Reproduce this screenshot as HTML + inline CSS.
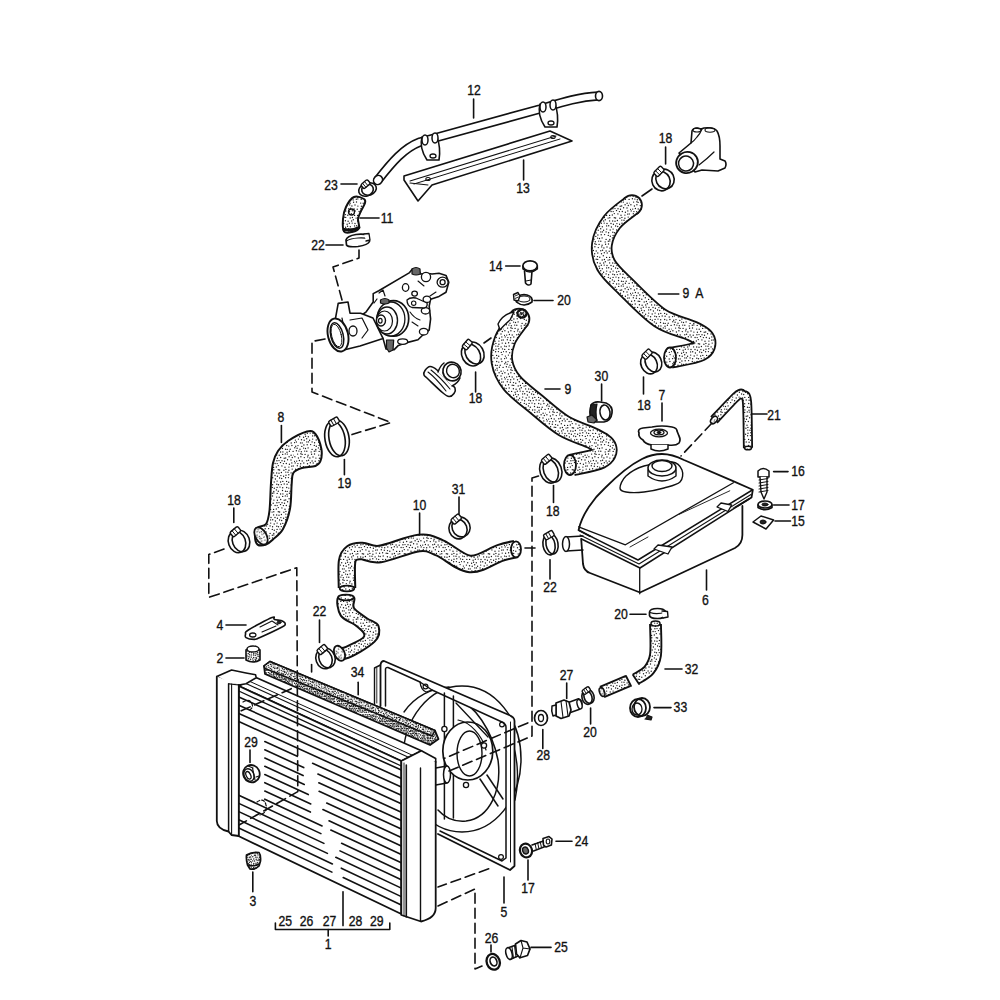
<!DOCTYPE html>
<html><head><meta charset="utf-8"><style>
html,body{margin:0;padding:0;background:#fff;width:1000px;height:1000px;overflow:hidden}
svg{display:block}
text{font-family:"Liberation Sans",sans-serif;fill:#111;stroke:#111;stroke-width:0.35}
</style></head><body>
<svg width="1000" height="1000" viewBox="0 0 1000 1000">
<defs><pattern id="st" width="42" height="42" patternUnits="userSpaceOnUse"><rect width="42" height="42" fill="#fff"/><g fill="#1a1a1a"><circle cx="1.2" cy="0.9" r="0.68"/><circle cx="3.3" cy="3.7" r="0.68"/><circle cx="1.6" cy="7.3" r="0.68"/><circle cx="2.2" cy="10.5" r="0.68"/><circle cx="0.7" cy="13.4" r="0.68"/><circle cx="2.2" cy="15.8" r="0.68"/><circle cx="1.4" cy="20.1" r="0.68"/><circle cx="2.3" cy="22.0" r="0.68"/><circle cx="1.7" cy="26.3" r="0.68"/><circle cx="3.1" cy="28.3" r="0.68"/><circle cx="2.4" cy="30.7" r="0.68"/><circle cx="3.6" cy="34.1" r="0.68"/><circle cx="0.9" cy="36.8" r="0.68"/><circle cx="2.7" cy="41.1" r="0.68"/><circle cx="3.9" cy="1.6" r="0.68"/><circle cx="6.3" cy="4.3" r="0.68"/><circle cx="4.6" cy="6.7" r="0.68"/><circle cx="5.2" cy="10.0" r="0.68"/><circle cx="4.8" cy="13.4" r="0.68"/><circle cx="5.7" cy="16.7" r="0.68"/><circle cx="4.4" cy="19.1" r="0.68"/><circle cx="6.5" cy="22.9" r="0.68"/><circle cx="4.0" cy="25.6" r="0.68"/><circle cx="6.0" cy="29.2" r="0.68"/><circle cx="4.9" cy="31.1" r="0.68"/><circle cx="6.9" cy="33.8" r="0.68"/><circle cx="4.4" cy="38.0" r="0.68"/><circle cx="5.4" cy="40.5" r="0.68"/><circle cx="6.7" cy="1.8" r="0.68"/><circle cx="9.5" cy="4.6" r="0.68"/><circle cx="8.2" cy="7.2" r="0.68"/><circle cx="9.4" cy="10.7" r="0.68"/><circle cx="7.6" cy="13.4" r="0.68"/><circle cx="9.6" cy="17.3" r="0.68"/><circle cx="7.5" cy="19.8" r="0.68"/><circle cx="8.2" cy="22.9" r="0.68"/><circle cx="7.8" cy="26.4" r="0.68"/><circle cx="9.6" cy="28.1" r="0.68"/><circle cx="7.3" cy="31.8" r="0.68"/><circle cx="8.1" cy="34.4" r="0.68"/><circle cx="6.9" cy="36.8" r="0.68"/><circle cx="8.2" cy="41.0" r="0.68"/><circle cx="9.8" cy="1.0" r="0.68"/><circle cx="11.8" cy="5.2" r="0.68"/><circle cx="9.7" cy="7.4" r="0.68"/><circle cx="12.1" cy="11.2" r="0.68"/><circle cx="11.1" cy="14.2" r="0.68"/><circle cx="11.6" cy="16.3" r="0.68"/><circle cx="10.2" cy="20.2" r="0.68"/><circle cx="12.8" cy="21.9" r="0.68"/><circle cx="9.9" cy="25.0" r="0.68"/><circle cx="11.5" cy="28.5" r="0.68"/><circle cx="10.7" cy="31.1" r="0.68"/><circle cx="11.1" cy="34.4" r="0.68"/><circle cx="10.3" cy="37.6" r="0.68"/><circle cx="12.8" cy="40.8" r="0.68"/><circle cx="13.5" cy="1.7" r="0.68"/><circle cx="15.3" cy="3.7" r="0.68"/><circle cx="14.2" cy="8.0" r="0.68"/><circle cx="15.7" cy="11.0" r="0.68"/><circle cx="13.3" cy="13.3" r="0.68"/><circle cx="14.3" cy="16.7" r="0.68"/><circle cx="12.7" cy="18.7" r="0.68"/><circle cx="14.5" cy="21.9" r="0.68"/><circle cx="13.2" cy="24.7" r="0.68"/><circle cx="14.1" cy="27.9" r="0.68"/><circle cx="12.8" cy="31.3" r="0.68"/><circle cx="14.1" cy="35.2" r="0.68"/><circle cx="13.7" cy="36.9" r="0.68"/><circle cx="14.6" cy="40.2" r="0.68"/><circle cx="16.3" cy="0.8" r="0.68"/><circle cx="18.6" cy="5.4" r="0.68"/><circle cx="16.4" cy="7.5" r="0.68"/><circle cx="17.3" cy="9.8" r="0.68"/><circle cx="16.2" cy="13.1" r="0.68"/><circle cx="18.6" cy="15.9" r="0.68"/><circle cx="15.6" cy="20.3" r="0.68"/><circle cx="18.1" cy="21.9" r="0.68"/><circle cx="16.6" cy="24.6" r="0.68"/><circle cx="18.1" cy="29.4" r="0.68"/><circle cx="17.2" cy="31.9" r="0.68"/><circle cx="17.6" cy="34.3" r="0.68"/><circle cx="15.9" cy="38.0" r="0.68"/><circle cx="18.1" cy="41.0" r="0.68"/><circle cx="19.2" cy="1.0" r="0.68"/><circle cx="21.6" cy="5.4" r="0.68"/><circle cx="20.1" cy="8.1" r="0.68"/><circle cx="21.6" cy="10.9" r="0.68"/><circle cx="19.0" cy="13.5" r="0.68"/><circle cx="20.7" cy="15.7" r="0.68"/><circle cx="18.7" cy="19.1" r="0.68"/><circle cx="20.6" cy="22.8" r="0.68"/><circle cx="20.3" cy="25.4" r="0.68"/><circle cx="21.8" cy="29.4" r="0.68"/><circle cx="20.3" cy="31.3" r="0.68"/><circle cx="20.5" cy="34.0" r="0.68"/><circle cx="19.0" cy="37.0" r="0.68"/><circle cx="21.2" cy="41.2" r="0.68"/><circle cx="23.1" cy="1.5" r="0.68"/><circle cx="24.3" cy="5.0" r="0.68"/><circle cx="21.8" cy="7.8" r="0.68"/><circle cx="24.7" cy="11.0" r="0.68"/><circle cx="23.0" cy="13.5" r="0.68"/><circle cx="23.4" cy="17.0" r="0.68"/><circle cx="22.2" cy="20.0" r="0.68"/><circle cx="24.8" cy="22.3" r="0.68"/><circle cx="22.3" cy="26.3" r="0.68"/><circle cx="24.4" cy="27.9" r="0.68"/><circle cx="21.8" cy="30.9" r="0.68"/><circle cx="24.7" cy="35.1" r="0.68"/><circle cx="21.9" cy="38.1" r="0.68"/><circle cx="24.9" cy="40.8" r="0.68"/><circle cx="25.2" cy="1.6" r="0.68"/><circle cx="26.3" cy="3.6" r="0.68"/><circle cx="26.3" cy="7.8" r="0.68"/><circle cx="27.0" cy="11.3" r="0.68"/><circle cx="25.4" cy="14.2" r="0.68"/><circle cx="27.6" cy="16.0" r="0.68"/><circle cx="25.1" cy="19.1" r="0.68"/><circle cx="26.5" cy="22.7" r="0.68"/><circle cx="25.1" cy="25.4" r="0.68"/><circle cx="26.3" cy="29.2" r="0.68"/><circle cx="25.2" cy="31.4" r="0.68"/><circle cx="27.2" cy="35.2" r="0.68"/><circle cx="25.4" cy="38.3" r="0.68"/><circle cx="27.0" cy="40.6" r="0.68"/><circle cx="28.5" cy="0.6" r="0.68"/><circle cx="29.9" cy="3.9" r="0.68"/><circle cx="27.6" cy="8.0" r="0.68"/><circle cx="29.4" cy="10.5" r="0.68"/><circle cx="28.9" cy="13.6" r="0.68"/><circle cx="29.7" cy="16.5" r="0.68"/><circle cx="28.6" cy="20.0" r="0.68"/><circle cx="29.3" cy="22.6" r="0.68"/><circle cx="28.0" cy="25.1" r="0.68"/><circle cx="30.5" cy="28.5" r="0.68"/><circle cx="28.6" cy="32.0" r="0.68"/><circle cx="30.7" cy="34.4" r="0.68"/><circle cx="28.7" cy="37.5" r="0.68"/><circle cx="30.0" cy="40.8" r="0.68"/><circle cx="31.4" cy="1.6" r="0.68"/><circle cx="33.0" cy="5.3" r="0.68"/><circle cx="31.9" cy="8.2" r="0.68"/><circle cx="33.8" cy="10.1" r="0.68"/><circle cx="31.6" cy="14.3" r="0.68"/><circle cx="33.6" cy="15.8" r="0.68"/><circle cx="30.8" cy="19.4" r="0.68"/><circle cx="32.2" cy="22.0" r="0.68"/><circle cx="30.7" cy="25.8" r="0.68"/><circle cx="33.5" cy="29.2" r="0.68"/><circle cx="30.9" cy="31.9" r="0.68"/><circle cx="33.3" cy="33.9" r="0.68"/><circle cx="32.2" cy="38.3" r="0.68"/><circle cx="32.5" cy="41.3" r="0.68"/><circle cx="34.3" cy="1.5" r="0.68"/><circle cx="36.9" cy="5.1" r="0.68"/><circle cx="33.9" cy="7.4" r="0.68"/><circle cx="36.0" cy="10.2" r="0.68"/><circle cx="34.0" cy="13.2" r="0.68"/><circle cx="36.4" cy="15.6" r="0.68"/><circle cx="34.6" cy="19.4" r="0.68"/><circle cx="35.1" cy="22.2" r="0.68"/><circle cx="34.7" cy="25.5" r="0.68"/><circle cx="35.2" cy="29.4" r="0.68"/><circle cx="35.0" cy="32.3" r="0.68"/><circle cx="35.3" cy="34.1" r="0.68"/><circle cx="33.7" cy="38.0" r="0.68"/><circle cx="35.6" cy="39.8" r="0.68"/><circle cx="37.4" cy="2.2" r="0.68"/><circle cx="39.6" cy="4.1" r="0.68"/><circle cx="36.9" cy="8.3" r="0.68"/><circle cx="39.1" cy="10.9" r="0.68"/><circle cx="36.8" cy="12.7" r="0.68"/><circle cx="39.3" cy="16.4" r="0.68"/><circle cx="36.7" cy="20.3" r="0.68"/><circle cx="39.2" cy="23.0" r="0.68"/><circle cx="36.8" cy="26.1" r="0.68"/><circle cx="38.2" cy="29.2" r="0.68"/><circle cx="37.4" cy="31.2" r="0.68"/><circle cx="39.1" cy="35.3" r="0.68"/><circle cx="37.1" cy="36.8" r="0.68"/><circle cx="39.0" cy="40.0" r="0.68"/><circle cx="39.8" cy="0.9" r="0.68"/><circle cx="41.2" cy="4.0" r="0.68"/><circle cx="40.2" cy="7.1" r="0.68"/><circle cx="0.5" cy="10.1" r="0.68"/><circle cx="40.5" cy="12.9" r="0.68"/><circle cx="41.7" cy="15.6" r="0.68"/><circle cx="40.1" cy="18.6" r="0.68"/><circle cx="0.4" cy="22.6" r="0.68"/><circle cx="39.9" cy="25.5" r="0.68"/><circle cx="0.8" cy="27.8" r="0.68"/><circle cx="41.1" cy="31.4" r="0.68"/><circle cx="42.0" cy="35.1" r="0.68"/><circle cx="40.3" cy="37.5" r="0.68"/><circle cx="0.3" cy="41.4" r="0.68"/></g></pattern><pattern id="st2" width="42" height="42" patternUnits="userSpaceOnUse"><rect width="42" height="42" fill="#fff"/><g fill="#1a1a1a"><circle cx="0.8" cy="1.3" r="0.72"/><circle cx="2.2" cy="3.1" r="0.72"/><circle cx="0.9" cy="4.8" r="0.72"/><circle cx="1.6" cy="6.6" r="0.72"/><circle cx="0.6" cy="9.2" r="0.72"/><circle cx="1.8" cy="10.7" r="0.72"/><circle cx="0.6" cy="13.3" r="0.72"/><circle cx="2.4" cy="15.2" r="0.72"/><circle cx="0.8" cy="16.7" r="0.72"/><circle cx="1.8" cy="19.0" r="0.72"/><circle cx="0.7" cy="20.9" r="0.72"/><circle cx="1.8" cy="23.5" r="0.72"/><circle cx="1.5" cy="25.0" r="0.72"/><circle cx="1.7" cy="27.5" r="0.72"/><circle cx="0.8" cy="28.9" r="0.72"/><circle cx="1.5" cy="30.9" r="0.72"/><circle cx="1.0" cy="33.0" r="0.72"/><circle cx="1.7" cy="35.0" r="0.72"/><circle cx="0.5" cy="36.8" r="0.72"/><circle cx="1.6" cy="38.9" r="0.72"/><circle cx="0.5" cy="40.5" r="0.72"/><circle cx="2.8" cy="0.7" r="0.72"/><circle cx="4.1" cy="3.0" r="0.72"/><circle cx="3.3" cy="5.2" r="0.72"/><circle cx="4.2" cy="7.4" r="0.72"/><circle cx="2.9" cy="8.8" r="0.72"/><circle cx="4.5" cy="10.6" r="0.72"/><circle cx="3.2" cy="13.1" r="0.72"/><circle cx="3.5" cy="15.3" r="0.72"/><circle cx="3.4" cy="17.1" r="0.72"/><circle cx="4.2" cy="19.3" r="0.72"/><circle cx="2.6" cy="21.0" r="0.72"/><circle cx="4.0" cy="23.3" r="0.72"/><circle cx="3.3" cy="25.3" r="0.72"/><circle cx="4.1" cy="27.4" r="0.72"/><circle cx="3.2" cy="29.2" r="0.72"/><circle cx="3.7" cy="30.5" r="0.72"/><circle cx="2.6" cy="32.9" r="0.72"/><circle cx="3.6" cy="35.3" r="0.72"/><circle cx="3.1" cy="37.1" r="0.72"/><circle cx="4.1" cy="39.2" r="0.72"/><circle cx="3.0" cy="40.5" r="0.72"/><circle cx="5.3" cy="1.2" r="0.72"/><circle cx="6.0" cy="3.0" r="0.72"/><circle cx="5.2" cy="4.6" r="0.72"/><circle cx="6.2" cy="6.8" r="0.72"/><circle cx="4.6" cy="8.8" r="0.72"/><circle cx="6.2" cy="10.7" r="0.72"/><circle cx="5.2" cy="13.5" r="0.72"/><circle cx="6.0" cy="14.9" r="0.72"/><circle cx="5.0" cy="17.2" r="0.72"/><circle cx="6.3" cy="19.1" r="0.72"/><circle cx="5.1" cy="20.6" r="0.72"/><circle cx="5.6" cy="22.8" r="0.72"/><circle cx="5.2" cy="24.8" r="0.72"/><circle cx="6.1" cy="26.5" r="0.72"/><circle cx="4.6" cy="28.8" r="0.72"/><circle cx="6.2" cy="31.2" r="0.72"/><circle cx="5.2" cy="32.8" r="0.72"/><circle cx="6.0" cy="35.0" r="0.72"/><circle cx="5.0" cy="36.6" r="0.72"/><circle cx="6.4" cy="38.7" r="0.72"/><circle cx="5.5" cy="41.4" r="0.72"/><circle cx="6.5" cy="1.0" r="0.72"/><circle cx="8.3" cy="3.5" r="0.72"/><circle cx="6.9" cy="4.8" r="0.72"/><circle cx="7.7" cy="7.4" r="0.72"/><circle cx="6.7" cy="9.1" r="0.72"/><circle cx="7.6" cy="11.0" r="0.72"/><circle cx="7.5" cy="12.6" r="0.72"/><circle cx="8.3" cy="15.0" r="0.72"/><circle cx="7.4" cy="17.2" r="0.72"/><circle cx="7.7" cy="19.4" r="0.72"/><circle cx="7.0" cy="20.5" r="0.72"/><circle cx="7.5" cy="23.0" r="0.72"/><circle cx="7.0" cy="24.8" r="0.72"/><circle cx="7.6" cy="26.8" r="0.72"/><circle cx="6.8" cy="29.3" r="0.72"/><circle cx="7.5" cy="31.3" r="0.72"/><circle cx="7.3" cy="32.6" r="0.72"/><circle cx="8.4" cy="35.2" r="0.72"/><circle cx="7.4" cy="36.8" r="0.72"/><circle cx="7.9" cy="38.9" r="0.72"/><circle cx="7.5" cy="41.1" r="0.72"/><circle cx="8.9" cy="0.9" r="0.72"/><circle cx="9.8" cy="2.5" r="0.72"/><circle cx="8.6" cy="5.3" r="0.72"/><circle cx="9.8" cy="7.4" r="0.72"/><circle cx="8.7" cy="8.8" r="0.72"/><circle cx="10.0" cy="10.7" r="0.72"/><circle cx="8.9" cy="13.5" r="0.72"/><circle cx="10.4" cy="15.3" r="0.72"/><circle cx="9.1" cy="17.4" r="0.72"/><circle cx="10.4" cy="19.0" r="0.72"/><circle cx="9.2" cy="20.5" r="0.72"/><circle cx="10.2" cy="23.0" r="0.72"/><circle cx="9.3" cy="25.1" r="0.72"/><circle cx="9.8" cy="26.5" r="0.72"/><circle cx="9.4" cy="28.6" r="0.72"/><circle cx="10.0" cy="30.8" r="0.72"/><circle cx="8.8" cy="33.2" r="0.72"/><circle cx="10.5" cy="34.8" r="0.72"/><circle cx="9.2" cy="36.8" r="0.72"/><circle cx="10.1" cy="38.9" r="0.72"/><circle cx="8.7" cy="40.7" r="0.72"/><circle cx="10.7" cy="1.4" r="0.72"/><circle cx="12.0" cy="2.7" r="0.72"/><circle cx="11.4" cy="5.5" r="0.72"/><circle cx="11.9" cy="6.6" r="0.72"/><circle cx="10.7" cy="8.6" r="0.72"/><circle cx="11.8" cy="10.6" r="0.72"/><circle cx="10.7" cy="12.8" r="0.72"/><circle cx="12.1" cy="15.4" r="0.72"/><circle cx="11.2" cy="16.9" r="0.72"/><circle cx="11.9" cy="19.0" r="0.72"/><circle cx="10.9" cy="20.8" r="0.72"/><circle cx="11.6" cy="22.8" r="0.72"/><circle cx="11.5" cy="24.6" r="0.72"/><circle cx="12.0" cy="27.1" r="0.72"/><circle cx="11.4" cy="28.7" r="0.72"/><circle cx="11.8" cy="30.7" r="0.72"/><circle cx="10.9" cy="32.9" r="0.72"/><circle cx="12.5" cy="35.3" r="0.72"/><circle cx="11.4" cy="36.5" r="0.72"/><circle cx="11.5" cy="39.2" r="0.72"/><circle cx="11.4" cy="41.0" r="0.72"/><circle cx="13.1" cy="0.5" r="0.72"/><circle cx="13.9" cy="3.4" r="0.72"/><circle cx="13.3" cy="5.4" r="0.72"/><circle cx="14.5" cy="6.7" r="0.72"/><circle cx="12.6" cy="8.7" r="0.72"/><circle cx="14.0" cy="11.2" r="0.72"/><circle cx="13.4" cy="13.2" r="0.72"/><circle cx="14.1" cy="15.3" r="0.72"/><circle cx="13.0" cy="17.1" r="0.72"/><circle cx="13.5" cy="19.3" r="0.72"/><circle cx="12.7" cy="21.4" r="0.72"/><circle cx="14.1" cy="22.8" r="0.72"/><circle cx="12.6" cy="24.8" r="0.72"/><circle cx="14.1" cy="27.2" r="0.72"/><circle cx="12.6" cy="28.6" r="0.72"/><circle cx="14.0" cy="31.1" r="0.72"/><circle cx="12.9" cy="32.7" r="0.72"/><circle cx="14.1" cy="34.5" r="0.72"/><circle cx="12.8" cy="37.0" r="0.72"/><circle cx="14.5" cy="39.1" r="0.72"/><circle cx="13.4" cy="41.0" r="0.72"/><circle cx="14.7" cy="0.7" r="0.72"/><circle cx="16.5" cy="3.2" r="0.72"/><circle cx="14.8" cy="4.5" r="0.72"/><circle cx="16.0" cy="7.2" r="0.72"/><circle cx="14.9" cy="8.8" r="0.72"/><circle cx="16.2" cy="11.4" r="0.72"/><circle cx="14.7" cy="12.5" r="0.72"/><circle cx="15.8" cy="14.9" r="0.72"/><circle cx="15.2" cy="16.7" r="0.72"/><circle cx="16.3" cy="19.2" r="0.72"/><circle cx="15.0" cy="20.7" r="0.72"/><circle cx="16.5" cy="22.8" r="0.72"/><circle cx="15.3" cy="24.7" r="0.72"/><circle cx="15.7" cy="27.3" r="0.72"/><circle cx="14.8" cy="29.5" r="0.72"/><circle cx="16.0" cy="30.7" r="0.72"/><circle cx="14.7" cy="32.9" r="0.72"/><circle cx="16.2" cy="35.4" r="0.72"/><circle cx="14.6" cy="36.9" r="0.72"/><circle cx="15.7" cy="39.5" r="0.72"/><circle cx="14.6" cy="40.6" r="0.72"/><circle cx="16.6" cy="0.9" r="0.72"/><circle cx="18.4" cy="3.4" r="0.72"/><circle cx="17.2" cy="5.5" r="0.72"/><circle cx="18.4" cy="6.8" r="0.72"/><circle cx="16.7" cy="9.4" r="0.72"/><circle cx="18.2" cy="10.5" r="0.72"/><circle cx="17.2" cy="12.9" r="0.72"/><circle cx="17.9" cy="14.8" r="0.72"/><circle cx="16.7" cy="16.5" r="0.72"/><circle cx="17.8" cy="18.9" r="0.72"/><circle cx="17.5" cy="20.6" r="0.72"/><circle cx="18.5" cy="22.7" r="0.72"/><circle cx="16.9" cy="25.3" r="0.72"/><circle cx="18.3" cy="26.9" r="0.72"/><circle cx="16.5" cy="29.0" r="0.72"/><circle cx="17.9" cy="31.4" r="0.72"/><circle cx="16.7" cy="32.9" r="0.72"/><circle cx="18.4" cy="34.5" r="0.72"/><circle cx="16.9" cy="37.3" r="0.72"/><circle cx="18.3" cy="38.5" r="0.72"/><circle cx="16.5" cy="40.6" r="0.72"/><circle cx="19.4" cy="0.8" r="0.72"/><circle cx="20.2" cy="3.4" r="0.72"/><circle cx="18.8" cy="4.8" r="0.72"/><circle cx="20.5" cy="7.1" r="0.72"/><circle cx="18.8" cy="9.2" r="0.72"/><circle cx="19.8" cy="10.8" r="0.72"/><circle cx="18.5" cy="13.3" r="0.72"/><circle cx="20.4" cy="15.1" r="0.72"/><circle cx="19.4" cy="16.5" r="0.72"/><circle cx="19.7" cy="19.0" r="0.72"/><circle cx="19.5" cy="21.5" r="0.72"/><circle cx="19.9" cy="22.8" r="0.72"/><circle cx="18.9" cy="25.0" r="0.72"/><circle cx="20.4" cy="26.7" r="0.72"/><circle cx="19.3" cy="29.2" r="0.72"/><circle cx="20.3" cy="31.3" r="0.72"/><circle cx="19.1" cy="32.8" r="0.72"/><circle cx="19.8" cy="34.9" r="0.72"/><circle cx="19.3" cy="36.6" r="0.72"/><circle cx="19.7" cy="39.3" r="0.72"/><circle cx="18.7" cy="40.6" r="0.72"/><circle cx="20.5" cy="1.1" r="0.72"/><circle cx="21.8" cy="3.5" r="0.72"/><circle cx="21.4" cy="5.5" r="0.72"/><circle cx="21.8" cy="6.6" r="0.72"/><circle cx="20.6" cy="9.0" r="0.72"/><circle cx="22.2" cy="10.9" r="0.72"/><circle cx="20.7" cy="12.9" r="0.72"/><circle cx="22.1" cy="15.2" r="0.72"/><circle cx="21.2" cy="17.3" r="0.72"/><circle cx="22.2" cy="18.6" r="0.72"/><circle cx="21.3" cy="20.8" r="0.72"/><circle cx="22.1" cy="22.9" r="0.72"/><circle cx="21.2" cy="24.7" r="0.72"/><circle cx="21.7" cy="26.7" r="0.72"/><circle cx="20.7" cy="29.4" r="0.72"/><circle cx="22.1" cy="30.8" r="0.72"/><circle cx="20.9" cy="33.5" r="0.72"/><circle cx="22.0" cy="34.7" r="0.72"/><circle cx="21.3" cy="37.2" r="0.72"/><circle cx="22.5" cy="38.6" r="0.72"/><circle cx="21.0" cy="41.3" r="0.72"/><circle cx="23.3" cy="1.4" r="0.72"/><circle cx="23.5" cy="2.8" r="0.72"/><circle cx="22.6" cy="4.7" r="0.72"/><circle cx="24.5" cy="7.1" r="0.72"/><circle cx="23.4" cy="8.9" r="0.72"/><circle cx="24.4" cy="10.9" r="0.72"/><circle cx="22.8" cy="13.3" r="0.72"/><circle cx="24.4" cy="14.6" r="0.72"/><circle cx="23.1" cy="17.1" r="0.72"/><circle cx="23.7" cy="18.9" r="0.72"/><circle cx="22.6" cy="20.7" r="0.72"/><circle cx="23.8" cy="23.1" r="0.72"/><circle cx="23.2" cy="24.7" r="0.72"/><circle cx="23.5" cy="26.8" r="0.72"/><circle cx="23.2" cy="28.7" r="0.72"/><circle cx="23.8" cy="30.7" r="0.72"/><circle cx="23.3" cy="33.0" r="0.72"/><circle cx="23.6" cy="34.6" r="0.72"/><circle cx="22.9" cy="37.1" r="0.72"/><circle cx="24.1" cy="38.6" r="0.72"/><circle cx="22.7" cy="41.2" r="0.72"/><circle cx="24.9" cy="0.8" r="0.72"/><circle cx="25.8" cy="3.5" r="0.72"/><circle cx="24.8" cy="5.1" r="0.72"/><circle cx="25.9" cy="6.9" r="0.72"/><circle cx="25.4" cy="9.5" r="0.72"/><circle cx="25.9" cy="10.7" r="0.72"/><circle cx="25.2" cy="12.7" r="0.72"/><circle cx="25.5" cy="15.4" r="0.72"/><circle cx="24.9" cy="17.3" r="0.72"/><circle cx="25.9" cy="19.4" r="0.72"/><circle cx="25.0" cy="20.7" r="0.72"/><circle cx="25.5" cy="23.1" r="0.72"/><circle cx="25.1" cy="25.4" r="0.72"/><circle cx="25.6" cy="27.1" r="0.72"/><circle cx="24.9" cy="29.0" r="0.72"/><circle cx="25.6" cy="30.8" r="0.72"/><circle cx="25.0" cy="33.4" r="0.72"/><circle cx="25.6" cy="35.0" r="0.72"/><circle cx="25.3" cy="37.5" r="0.72"/><circle cx="25.7" cy="38.6" r="0.72"/><circle cx="25.4" cy="41.5" r="0.72"/><circle cx="27.0" cy="0.6" r="0.72"/><circle cx="28.4" cy="2.9" r="0.72"/><circle cx="27.4" cy="5.1" r="0.72"/><circle cx="28.3" cy="6.7" r="0.72"/><circle cx="27.3" cy="8.7" r="0.72"/><circle cx="27.9" cy="11.3" r="0.72"/><circle cx="27.3" cy="12.7" r="0.72"/><circle cx="27.7" cy="14.9" r="0.72"/><circle cx="27.0" cy="16.9" r="0.72"/><circle cx="27.6" cy="18.7" r="0.72"/><circle cx="27.2" cy="21.4" r="0.72"/><circle cx="27.5" cy="23.1" r="0.72"/><circle cx="27.3" cy="24.5" r="0.72"/><circle cx="28.3" cy="26.6" r="0.72"/><circle cx="27.1" cy="29.1" r="0.72"/><circle cx="28.1" cy="30.8" r="0.72"/><circle cx="26.9" cy="33.1" r="0.72"/><circle cx="27.9" cy="35.2" r="0.72"/><circle cx="26.9" cy="36.9" r="0.72"/><circle cx="27.5" cy="39.1" r="0.72"/><circle cx="27.0" cy="40.7" r="0.72"/><circle cx="29.3" cy="1.3" r="0.72"/><circle cx="30.0" cy="2.7" r="0.72"/><circle cx="29.0" cy="4.6" r="0.72"/><circle cx="29.6" cy="6.9" r="0.72"/><circle cx="28.6" cy="8.9" r="0.72"/><circle cx="30.0" cy="10.5" r="0.72"/><circle cx="29.1" cy="12.6" r="0.72"/><circle cx="30.2" cy="15.3" r="0.72"/><circle cx="29.0" cy="16.6" r="0.72"/><circle cx="30.0" cy="18.9" r="0.72"/><circle cx="29.5" cy="20.6" r="0.72"/><circle cx="30.4" cy="23.5" r="0.72"/><circle cx="29.2" cy="25.3" r="0.72"/><circle cx="29.7" cy="27.5" r="0.72"/><circle cx="29.0" cy="29.5" r="0.72"/><circle cx="30.4" cy="30.7" r="0.72"/><circle cx="29.3" cy="33.4" r="0.72"/><circle cx="29.6" cy="34.9" r="0.72"/><circle cx="29.3" cy="36.7" r="0.72"/><circle cx="30.4" cy="38.8" r="0.72"/><circle cx="29.3" cy="40.6" r="0.72"/><circle cx="31.0" cy="1.4" r="0.72"/><circle cx="31.7" cy="2.8" r="0.72"/><circle cx="31.0" cy="4.8" r="0.72"/><circle cx="31.5" cy="6.7" r="0.72"/><circle cx="30.7" cy="9.4" r="0.72"/><circle cx="32.2" cy="11.4" r="0.72"/><circle cx="30.7" cy="13.3" r="0.72"/><circle cx="31.6" cy="15.0" r="0.72"/><circle cx="31.1" cy="16.9" r="0.72"/><circle cx="32.4" cy="19.1" r="0.72"/><circle cx="31.1" cy="21.4" r="0.72"/><circle cx="31.6" cy="23.5" r="0.72"/><circle cx="31.1" cy="24.9" r="0.72"/><circle cx="32.3" cy="26.8" r="0.72"/><circle cx="31.5" cy="29.1" r="0.72"/><circle cx="31.9" cy="31.3" r="0.72"/><circle cx="30.9" cy="32.7" r="0.72"/><circle cx="32.2" cy="34.5" r="0.72"/><circle cx="31.3" cy="36.8" r="0.72"/><circle cx="32.1" cy="39.5" r="0.72"/><circle cx="31.1" cy="41.2" r="0.72"/><circle cx="32.8" cy="0.5" r="0.72"/><circle cx="33.5" cy="2.6" r="0.72"/><circle cx="33.1" cy="4.9" r="0.72"/><circle cx="34.0" cy="7.4" r="0.72"/><circle cx="32.6" cy="8.7" r="0.72"/><circle cx="34.2" cy="10.5" r="0.72"/><circle cx="32.5" cy="12.9" r="0.72"/><circle cx="33.6" cy="14.9" r="0.72"/><circle cx="32.7" cy="17.1" r="0.72"/><circle cx="34.1" cy="18.7" r="0.72"/><circle cx="33.1" cy="21.0" r="0.72"/><circle cx="33.6" cy="23.4" r="0.72"/><circle cx="32.7" cy="24.6" r="0.72"/><circle cx="33.6" cy="27.1" r="0.72"/><circle cx="33.4" cy="29.3" r="0.72"/><circle cx="33.9" cy="30.8" r="0.72"/><circle cx="32.5" cy="33.1" r="0.72"/><circle cx="34.1" cy="34.9" r="0.72"/><circle cx="33.1" cy="36.9" r="0.72"/><circle cx="34.4" cy="39.2" r="0.72"/><circle cx="32.7" cy="41.4" r="0.72"/><circle cx="34.5" cy="1.0" r="0.72"/><circle cx="35.9" cy="2.7" r="0.72"/><circle cx="34.6" cy="5.3" r="0.72"/><circle cx="35.5" cy="7.1" r="0.72"/><circle cx="35.4" cy="8.6" r="0.72"/><circle cx="35.7" cy="11.1" r="0.72"/><circle cx="35.0" cy="13.1" r="0.72"/><circle cx="36.3" cy="14.7" r="0.72"/><circle cx="34.8" cy="16.8" r="0.72"/><circle cx="35.5" cy="19.4" r="0.72"/><circle cx="35.3" cy="21.2" r="0.72"/><circle cx="35.5" cy="23.3" r="0.72"/><circle cx="35.2" cy="25.0" r="0.72"/><circle cx="36.2" cy="27.0" r="0.72"/><circle cx="34.7" cy="28.6" r="0.72"/><circle cx="35.7" cy="30.5" r="0.72"/><circle cx="34.8" cy="33.2" r="0.72"/><circle cx="36.2" cy="35.3" r="0.72"/><circle cx="35.2" cy="36.8" r="0.72"/><circle cx="36.1" cy="38.9" r="0.72"/><circle cx="35.3" cy="41.0" r="0.72"/><circle cx="36.8" cy="1.1" r="0.72"/><circle cx="38.5" cy="2.7" r="0.72"/><circle cx="37.4" cy="4.5" r="0.72"/><circle cx="37.8" cy="6.7" r="0.72"/><circle cx="37.2" cy="9.4" r="0.72"/><circle cx="38.2" cy="10.8" r="0.72"/><circle cx="37.4" cy="12.8" r="0.72"/><circle cx="37.7" cy="15.4" r="0.72"/><circle cx="37.1" cy="17.2" r="0.72"/><circle cx="38.2" cy="19.5" r="0.72"/><circle cx="37.0" cy="21.3" r="0.72"/><circle cx="38.2" cy="23.4" r="0.72"/><circle cx="36.9" cy="25.2" r="0.72"/><circle cx="38.1" cy="26.8" r="0.72"/><circle cx="36.7" cy="29.1" r="0.72"/><circle cx="37.6" cy="31.4" r="0.72"/><circle cx="36.6" cy="32.5" r="0.72"/><circle cx="37.6" cy="35.4" r="0.72"/><circle cx="36.8" cy="36.6" r="0.72"/><circle cx="37.5" cy="38.5" r="0.72"/><circle cx="37.2" cy="41.1" r="0.72"/><circle cx="39.2" cy="1.2" r="0.72"/><circle cx="39.6" cy="3.1" r="0.72"/><circle cx="38.9" cy="5.3" r="0.72"/><circle cx="40.3" cy="7.4" r="0.72"/><circle cx="38.6" cy="9.4" r="0.72"/><circle cx="40.4" cy="11.4" r="0.72"/><circle cx="38.6" cy="12.7" r="0.72"/><circle cx="39.6" cy="14.5" r="0.72"/><circle cx="39.3" cy="17.3" r="0.72"/><circle cx="40.1" cy="19.3" r="0.72"/><circle cx="39.1" cy="20.8" r="0.72"/><circle cx="39.6" cy="22.6" r="0.72"/><circle cx="39.3" cy="24.7" r="0.72"/><circle cx="39.8" cy="26.9" r="0.72"/><circle cx="38.5" cy="28.8" r="0.72"/><circle cx="39.8" cy="31.2" r="0.72"/><circle cx="38.9" cy="32.8" r="0.72"/><circle cx="40.5" cy="35.0" r="0.72"/><circle cx="39.4" cy="37.1" r="0.72"/><circle cx="39.5" cy="38.9" r="0.72"/><circle cx="38.9" cy="41.3" r="0.72"/><circle cx="40.8" cy="1.2" r="0.72"/><circle cx="0.0" cy="2.7" r="0.72"/><circle cx="41.4" cy="4.6" r="0.72"/><circle cx="0.3" cy="6.7" r="0.72"/><circle cx="40.5" cy="8.7" r="0.72"/><circle cx="0.3" cy="11.5" r="0.72"/><circle cx="40.5" cy="13.0" r="0.72"/><circle cx="42.0" cy="15.3" r="0.72"/><circle cx="40.7" cy="17.0" r="0.72"/><circle cx="41.8" cy="19.3" r="0.72"/><circle cx="40.8" cy="21.4" r="0.72"/><circle cx="41.8" cy="22.7" r="0.72"/><circle cx="41.2" cy="25.0" r="0.72"/><circle cx="41.6" cy="27.1" r="0.72"/><circle cx="40.6" cy="29.3" r="0.72"/><circle cx="0.2" cy="31.3" r="0.72"/><circle cx="41.1" cy="32.9" r="0.72"/><circle cx="41.9" cy="34.9" r="0.72"/><circle cx="41.4" cy="36.6" r="0.72"/><circle cx="0.4" cy="38.5" r="0.72"/><circle cx="40.7" cy="40.8" r="0.72"/></g></pattern><pattern id="st4" width="42" height="42" patternUnits="userSpaceOnUse"><rect width="42" height="42" fill="#fff"/><g fill="#1a1a1a"><circle cx="1.2" cy="0.9" r="0.75"/><circle cx="1.6" cy="2.9" r="0.75"/><circle cx="0.6" cy="4.2" r="0.75"/><circle cx="1.7" cy="6.2" r="0.75"/><circle cx="1.1" cy="7.8" r="0.75"/><circle cx="1.6" cy="9.2" r="0.75"/><circle cx="0.6" cy="11.3" r="0.75"/><circle cx="1.8" cy="12.9" r="0.75"/><circle cx="0.6" cy="14.4" r="0.75"/><circle cx="1.9" cy="16.2" r="0.75"/><circle cx="0.6" cy="17.8" r="0.75"/><circle cx="2.0" cy="19.3" r="0.75"/><circle cx="0.6" cy="21.1" r="0.75"/><circle cx="1.9" cy="23.2" r="0.75"/><circle cx="0.6" cy="24.4" r="0.75"/><circle cx="1.5" cy="26.2" r="0.75"/><circle cx="0.9" cy="27.8" r="0.75"/><circle cx="1.6" cy="29.5" r="0.75"/><circle cx="1.2" cy="31.6" r="0.75"/><circle cx="1.4" cy="33.5" r="0.75"/><circle cx="0.5" cy="34.8" r="0.75"/><circle cx="2.1" cy="36.8" r="0.75"/><circle cx="1.0" cy="38.2" r="0.75"/><circle cx="1.5" cy="40.1" r="0.75"/><circle cx="2.2" cy="0.6" r="0.75"/><circle cx="3.3" cy="2.2" r="0.75"/><circle cx="2.5" cy="4.5" r="0.75"/><circle cx="3.6" cy="6.0" r="0.75"/><circle cx="2.7" cy="7.6" r="0.75"/><circle cx="3.1" cy="9.4" r="0.75"/><circle cx="2.5" cy="11.2" r="0.75"/><circle cx="3.7" cy="12.7" r="0.75"/><circle cx="2.6" cy="14.6" r="0.75"/><circle cx="3.3" cy="15.9" r="0.75"/><circle cx="2.7" cy="18.2" r="0.75"/><circle cx="3.6" cy="19.7" r="0.75"/><circle cx="2.8" cy="21.4" r="0.75"/><circle cx="3.5" cy="22.9" r="0.75"/><circle cx="2.4" cy="24.8" r="0.75"/><circle cx="3.1" cy="26.3" r="0.75"/><circle cx="2.8" cy="28.2" r="0.75"/><circle cx="3.5" cy="29.6" r="0.75"/><circle cx="2.5" cy="31.4" r="0.75"/><circle cx="3.5" cy="33.1" r="0.75"/><circle cx="2.7" cy="35.2" r="0.75"/><circle cx="3.1" cy="36.7" r="0.75"/><circle cx="2.8" cy="38.2" r="0.75"/><circle cx="3.4" cy="40.3" r="0.75"/><circle cx="3.9" cy="0.9" r="0.75"/><circle cx="4.8" cy="2.8" r="0.75"/><circle cx="4.6" cy="4.3" r="0.75"/><circle cx="4.8" cy="6.0" r="0.75"/><circle cx="4.3" cy="7.8" r="0.75"/><circle cx="5.1" cy="9.5" r="0.75"/><circle cx="4.5" cy="11.1" r="0.75"/><circle cx="5.0" cy="13.1" r="0.75"/><circle cx="4.0" cy="14.6" r="0.75"/><circle cx="5.0" cy="16.4" r="0.75"/><circle cx="3.9" cy="18.2" r="0.75"/><circle cx="5.0" cy="19.2" r="0.75"/><circle cx="4.1" cy="21.2" r="0.75"/><circle cx="4.7" cy="22.9" r="0.75"/><circle cx="4.2" cy="24.8" r="0.75"/><circle cx="5.0" cy="26.2" r="0.75"/><circle cx="4.0" cy="28.2" r="0.75"/><circle cx="5.5" cy="29.8" r="0.75"/><circle cx="4.0" cy="31.7" r="0.75"/><circle cx="5.0" cy="32.9" r="0.75"/><circle cx="4.0" cy="35.1" r="0.75"/><circle cx="5.3" cy="36.7" r="0.75"/><circle cx="4.2" cy="38.3" r="0.75"/><circle cx="4.9" cy="40.3" r="0.75"/><circle cx="5.8" cy="1.0" r="0.75"/><circle cx="7.1" cy="2.8" r="0.75"/><circle cx="5.9" cy="4.1" r="0.75"/><circle cx="6.8" cy="5.7" r="0.75"/><circle cx="6.2" cy="7.5" r="0.75"/><circle cx="7.1" cy="9.2" r="0.75"/><circle cx="5.9" cy="10.9" r="0.75"/><circle cx="6.7" cy="12.5" r="0.75"/><circle cx="5.6" cy="14.6" r="0.75"/><circle cx="6.6" cy="15.9" r="0.75"/><circle cx="5.8" cy="17.8" r="0.75"/><circle cx="6.7" cy="19.7" r="0.75"/><circle cx="6.1" cy="21.1" r="0.75"/><circle cx="7.1" cy="23.2" r="0.75"/><circle cx="5.6" cy="24.9" r="0.75"/><circle cx="7.1" cy="26.6" r="0.75"/><circle cx="5.7" cy="28.3" r="0.75"/><circle cx="6.9" cy="29.4" r="0.75"/><circle cx="5.6" cy="31.8" r="0.75"/><circle cx="6.9" cy="33.0" r="0.75"/><circle cx="5.6" cy="34.6" r="0.75"/><circle cx="6.6" cy="36.8" r="0.75"/><circle cx="5.8" cy="38.0" r="0.75"/><circle cx="7.1" cy="40.2" r="0.75"/><circle cx="7.4" cy="1.2" r="0.75"/><circle cx="8.6" cy="2.8" r="0.75"/><circle cx="7.8" cy="4.6" r="0.75"/><circle cx="8.7" cy="6.2" r="0.75"/><circle cx="7.4" cy="7.8" r="0.75"/><circle cx="8.5" cy="9.5" r="0.75"/><circle cx="7.6" cy="11.4" r="0.75"/><circle cx="8.5" cy="12.6" r="0.75"/><circle cx="7.4" cy="14.2" r="0.75"/><circle cx="8.5" cy="15.8" r="0.75"/><circle cx="7.6" cy="17.6" r="0.75"/><circle cx="8.5" cy="19.5" r="0.75"/><circle cx="7.7" cy="21.5" r="0.75"/><circle cx="8.1" cy="23.2" r="0.75"/><circle cx="7.6" cy="24.7" r="0.75"/><circle cx="8.6" cy="26.6" r="0.75"/><circle cx="7.5" cy="28.0" r="0.75"/><circle cx="8.9" cy="29.4" r="0.75"/><circle cx="7.8" cy="31.6" r="0.75"/><circle cx="8.1" cy="33.2" r="0.75"/><circle cx="7.8" cy="35.2" r="0.75"/><circle cx="8.4" cy="36.9" r="0.75"/><circle cx="7.7" cy="38.2" r="0.75"/><circle cx="8.8" cy="39.6" r="0.75"/><circle cx="9.5" cy="1.0" r="0.75"/><circle cx="10.1" cy="2.8" r="0.75"/><circle cx="9.2" cy="4.2" r="0.75"/><circle cx="10.2" cy="6.2" r="0.75"/><circle cx="9.1" cy="7.6" r="0.75"/><circle cx="10.1" cy="9.4" r="0.75"/><circle cx="9.6" cy="10.9" r="0.75"/><circle cx="10.5" cy="12.7" r="0.75"/><circle cx="9.4" cy="14.3" r="0.75"/><circle cx="10.2" cy="16.5" r="0.75"/><circle cx="9.5" cy="18.1" r="0.75"/><circle cx="10.1" cy="19.4" r="0.75"/><circle cx="9.2" cy="21.3" r="0.75"/><circle cx="10.3" cy="23.2" r="0.75"/><circle cx="9.0" cy="24.8" r="0.75"/><circle cx="10.5" cy="26.4" r="0.75"/><circle cx="9.0" cy="27.9" r="0.75"/><circle cx="9.8" cy="29.5" r="0.75"/><circle cx="9.7" cy="31.5" r="0.75"/><circle cx="10.3" cy="33.4" r="0.75"/><circle cx="9.7" cy="34.9" r="0.75"/><circle cx="10.3" cy="36.7" r="0.75"/><circle cx="9.5" cy="38.3" r="0.75"/><circle cx="10.3" cy="39.7" r="0.75"/><circle cx="11.2" cy="0.8" r="0.75"/><circle cx="12.1" cy="2.2" r="0.75"/><circle cx="10.8" cy="3.9" r="0.75"/><circle cx="12.1" cy="6.3" r="0.75"/><circle cx="11.2" cy="7.5" r="0.75"/><circle cx="12.2" cy="9.6" r="0.75"/><circle cx="11.1" cy="10.9" r="0.75"/><circle cx="11.7" cy="12.7" r="0.75"/><circle cx="10.9" cy="14.4" r="0.75"/><circle cx="12.0" cy="16.5" r="0.75"/><circle cx="10.7" cy="17.9" r="0.75"/><circle cx="11.5" cy="19.2" r="0.75"/><circle cx="11.3" cy="21.3" r="0.75"/><circle cx="12.2" cy="22.9" r="0.75"/><circle cx="10.7" cy="24.6" r="0.75"/><circle cx="12.0" cy="26.7" r="0.75"/><circle cx="11.4" cy="28.0" r="0.75"/><circle cx="11.8" cy="29.4" r="0.75"/><circle cx="11.2" cy="31.2" r="0.75"/><circle cx="11.6" cy="32.8" r="0.75"/><circle cx="10.7" cy="35.0" r="0.75"/><circle cx="11.6" cy="36.9" r="0.75"/><circle cx="10.7" cy="38.5" r="0.75"/><circle cx="11.6" cy="39.6" r="0.75"/><circle cx="12.9" cy="0.6" r="0.75"/><circle cx="13.8" cy="2.3" r="0.75"/><circle cx="12.4" cy="4.5" r="0.75"/><circle cx="13.8" cy="6.2" r="0.75"/><circle cx="12.9" cy="7.3" r="0.75"/><circle cx="13.7" cy="9.5" r="0.75"/><circle cx="12.7" cy="11.4" r="0.75"/><circle cx="13.4" cy="13.1" r="0.75"/><circle cx="12.9" cy="14.1" r="0.75"/><circle cx="13.2" cy="16.3" r="0.75"/><circle cx="13.0" cy="17.5" r="0.75"/><circle cx="13.4" cy="19.7" r="0.75"/><circle cx="12.5" cy="21.5" r="0.75"/><circle cx="13.6" cy="22.6" r="0.75"/><circle cx="12.6" cy="24.7" r="0.75"/><circle cx="13.6" cy="26.5" r="0.75"/><circle cx="12.5" cy="28.3" r="0.75"/><circle cx="13.5" cy="29.9" r="0.75"/><circle cx="12.9" cy="31.4" r="0.75"/><circle cx="13.5" cy="33.4" r="0.75"/><circle cx="13.1" cy="35.1" r="0.75"/><circle cx="13.7" cy="36.4" r="0.75"/><circle cx="12.4" cy="38.6" r="0.75"/><circle cx="13.8" cy="40.2" r="0.75"/><circle cx="14.3" cy="0.9" r="0.75"/><circle cx="15.7" cy="2.8" r="0.75"/><circle cx="14.5" cy="4.1" r="0.75"/><circle cx="15.2" cy="6.3" r="0.75"/><circle cx="14.4" cy="7.8" r="0.75"/><circle cx="15.4" cy="9.7" r="0.75"/><circle cx="14.7" cy="10.9" r="0.75"/><circle cx="14.9" cy="12.6" r="0.75"/><circle cx="14.4" cy="14.5" r="0.75"/><circle cx="15.6" cy="16.5" r="0.75"/><circle cx="14.1" cy="18.1" r="0.75"/><circle cx="15.5" cy="19.8" r="0.75"/><circle cx="14.5" cy="21.1" r="0.75"/><circle cx="15.6" cy="23.2" r="0.75"/><circle cx="14.6" cy="25.0" r="0.75"/><circle cx="15.2" cy="26.0" r="0.75"/><circle cx="14.5" cy="28.3" r="0.75"/><circle cx="15.1" cy="30.0" r="0.75"/><circle cx="14.8" cy="31.2" r="0.75"/><circle cx="15.4" cy="33.3" r="0.75"/><circle cx="14.4" cy="34.6" r="0.75"/><circle cx="15.1" cy="36.8" r="0.75"/><circle cx="14.7" cy="38.2" r="0.75"/><circle cx="15.0" cy="40.2" r="0.75"/><circle cx="16.4" cy="0.6" r="0.75"/><circle cx="17.1" cy="2.9" r="0.75"/><circle cx="16.5" cy="4.3" r="0.75"/><circle cx="17.0" cy="6.0" r="0.75"/><circle cx="15.9" cy="7.4" r="0.75"/><circle cx="16.7" cy="9.5" r="0.75"/><circle cx="16.0" cy="11.1" r="0.75"/><circle cx="16.9" cy="12.8" r="0.75"/><circle cx="15.9" cy="14.1" r="0.75"/><circle cx="17.4" cy="16.0" r="0.75"/><circle cx="15.8" cy="18.0" r="0.75"/><circle cx="17.2" cy="19.3" r="0.75"/><circle cx="16.2" cy="21.1" r="0.75"/><circle cx="17.0" cy="22.6" r="0.75"/><circle cx="15.8" cy="25.0" r="0.75"/><circle cx="17.3" cy="26.3" r="0.75"/><circle cx="16.2" cy="27.9" r="0.75"/><circle cx="17.2" cy="29.7" r="0.75"/><circle cx="16.5" cy="31.7" r="0.75"/><circle cx="17.3" cy="33.5" r="0.75"/><circle cx="16.0" cy="34.5" r="0.75"/><circle cx="16.8" cy="36.3" r="0.75"/><circle cx="15.8" cy="37.9" r="0.75"/><circle cx="17.0" cy="40.2" r="0.75"/><circle cx="17.8" cy="1.2" r="0.75"/><circle cx="19.0" cy="2.2" r="0.75"/><circle cx="17.9" cy="4.2" r="0.75"/><circle cx="18.4" cy="6.3" r="0.75"/><circle cx="17.7" cy="7.7" r="0.75"/><circle cx="18.8" cy="9.7" r="0.75"/><circle cx="18.0" cy="11.0" r="0.75"/><circle cx="18.7" cy="12.5" r="0.75"/><circle cx="18.2" cy="14.8" r="0.75"/><circle cx="18.5" cy="15.8" r="0.75"/><circle cx="17.7" cy="17.7" r="0.75"/><circle cx="19.0" cy="19.9" r="0.75"/><circle cx="18.1" cy="20.9" r="0.75"/><circle cx="18.9" cy="23.1" r="0.75"/><circle cx="18.0" cy="25.0" r="0.75"/><circle cx="18.3" cy="26.1" r="0.75"/><circle cx="18.1" cy="28.4" r="0.75"/><circle cx="18.8" cy="29.6" r="0.75"/><circle cx="17.9" cy="31.7" r="0.75"/><circle cx="18.4" cy="33.0" r="0.75"/><circle cx="17.7" cy="34.5" r="0.75"/><circle cx="18.7" cy="36.3" r="0.75"/><circle cx="17.6" cy="38.0" r="0.75"/><circle cx="18.8" cy="39.6" r="0.75"/><circle cx="19.7" cy="0.6" r="0.75"/><circle cx="20.0" cy="2.9" r="0.75"/><circle cx="19.3" cy="4.6" r="0.75"/><circle cx="20.7" cy="6.3" r="0.75"/><circle cx="19.3" cy="7.6" r="0.75"/><circle cx="20.1" cy="9.7" r="0.75"/><circle cx="19.8" cy="11.2" r="0.75"/><circle cx="20.4" cy="12.6" r="0.75"/><circle cx="19.8" cy="14.4" r="0.75"/><circle cx="20.5" cy="15.9" r="0.75"/><circle cx="19.3" cy="17.5" r="0.75"/><circle cx="20.6" cy="19.6" r="0.75"/><circle cx="19.3" cy="21.5" r="0.75"/><circle cx="20.2" cy="22.9" r="0.75"/><circle cx="19.3" cy="24.5" r="0.75"/><circle cx="20.7" cy="26.2" r="0.75"/><circle cx="19.3" cy="28.0" r="0.75"/><circle cx="20.3" cy="30.1" r="0.75"/><circle cx="19.2" cy="31.8" r="0.75"/><circle cx="20.0" cy="33.5" r="0.75"/><circle cx="19.7" cy="34.6" r="0.75"/><circle cx="20.4" cy="36.4" r="0.75"/><circle cx="19.4" cy="38.0" r="0.75"/><circle cx="20.3" cy="40.3" r="0.75"/><circle cx="21.6" cy="1.2" r="0.75"/><circle cx="21.8" cy="2.4" r="0.75"/><circle cx="21.6" cy="3.9" r="0.75"/><circle cx="22.3" cy="5.8" r="0.75"/><circle cx="21.6" cy="7.3" r="0.75"/><circle cx="22.3" cy="9.2" r="0.75"/><circle cx="21.0" cy="10.7" r="0.75"/><circle cx="22.4" cy="12.8" r="0.75"/><circle cx="21.0" cy="14.4" r="0.75"/><circle cx="22.4" cy="15.9" r="0.75"/><circle cx="21.3" cy="17.6" r="0.75"/><circle cx="21.8" cy="19.8" r="0.75"/><circle cx="21.4" cy="21.0" r="0.75"/><circle cx="21.8" cy="22.6" r="0.75"/><circle cx="21.3" cy="24.6" r="0.75"/><circle cx="21.9" cy="26.1" r="0.75"/><circle cx="21.3" cy="28.2" r="0.75"/><circle cx="22.3" cy="29.8" r="0.75"/><circle cx="21.0" cy="31.1" r="0.75"/><circle cx="22.3" cy="33.1" r="0.75"/><circle cx="21.4" cy="34.5" r="0.75"/><circle cx="22.3" cy="36.4" r="0.75"/><circle cx="21.5" cy="38.5" r="0.75"/><circle cx="22.1" cy="39.6" r="0.75"/><circle cx="23.3" cy="0.8" r="0.75"/><circle cx="24.1" cy="2.4" r="0.75"/><circle cx="22.7" cy="4.5" r="0.75"/><circle cx="23.7" cy="5.7" r="0.75"/><circle cx="22.8" cy="7.7" r="0.75"/><circle cx="23.4" cy="9.4" r="0.75"/><circle cx="22.9" cy="11.1" r="0.75"/><circle cx="23.5" cy="12.9" r="0.75"/><circle cx="23.2" cy="14.7" r="0.75"/><circle cx="23.7" cy="16.3" r="0.75"/><circle cx="22.9" cy="18.1" r="0.75"/><circle cx="23.4" cy="19.8" r="0.75"/><circle cx="23.3" cy="21.2" r="0.75"/><circle cx="23.8" cy="23.0" r="0.75"/><circle cx="23.0" cy="24.3" r="0.75"/><circle cx="24.2" cy="26.1" r="0.75"/><circle cx="22.7" cy="27.7" r="0.75"/><circle cx="23.6" cy="30.0" r="0.75"/><circle cx="22.6" cy="31.1" r="0.75"/><circle cx="24.0" cy="32.9" r="0.75"/><circle cx="22.6" cy="34.9" r="0.75"/><circle cx="23.9" cy="36.6" r="0.75"/><circle cx="23.1" cy="37.9" r="0.75"/><circle cx="24.1" cy="40.1" r="0.75"/><circle cx="24.3" cy="0.5" r="0.75"/><circle cx="25.5" cy="2.6" r="0.75"/><circle cx="24.5" cy="3.9" r="0.75"/><circle cx="25.4" cy="5.7" r="0.75"/><circle cx="24.7" cy="7.9" r="0.75"/><circle cx="25.2" cy="9.4" r="0.75"/><circle cx="24.8" cy="10.8" r="0.75"/><circle cx="25.8" cy="13.1" r="0.75"/><circle cx="24.6" cy="14.4" r="0.75"/><circle cx="25.8" cy="16.2" r="0.75"/><circle cx="24.6" cy="18.2" r="0.75"/><circle cx="25.7" cy="19.4" r="0.75"/><circle cx="24.4" cy="21.1" r="0.75"/><circle cx="25.4" cy="23.3" r="0.75"/><circle cx="24.9" cy="25.0" r="0.75"/><circle cx="25.8" cy="26.6" r="0.75"/><circle cx="24.3" cy="28.1" r="0.75"/><circle cx="25.9" cy="30.1" r="0.75"/><circle cx="24.4" cy="31.4" r="0.75"/><circle cx="25.6" cy="33.0" r="0.75"/><circle cx="24.7" cy="34.5" r="0.75"/><circle cx="25.4" cy="36.6" r="0.75"/><circle cx="24.3" cy="38.0" r="0.75"/><circle cx="25.9" cy="40.2" r="0.75"/><circle cx="26.7" cy="1.0" r="0.75"/><circle cx="27.4" cy="2.9" r="0.75"/><circle cx="26.7" cy="3.9" r="0.75"/><circle cx="27.3" cy="5.8" r="0.75"/><circle cx="26.5" cy="7.5" r="0.75"/><circle cx="27.2" cy="9.7" r="0.75"/><circle cx="26.4" cy="10.9" r="0.75"/><circle cx="27.2" cy="12.7" r="0.75"/><circle cx="26.7" cy="14.3" r="0.75"/><circle cx="27.0" cy="16.3" r="0.75"/><circle cx="26.0" cy="17.9" r="0.75"/><circle cx="27.6" cy="19.6" r="0.75"/><circle cx="26.2" cy="21.2" r="0.75"/><circle cx="27.2" cy="22.7" r="0.75"/><circle cx="26.0" cy="24.4" r="0.75"/><circle cx="27.0" cy="26.3" r="0.75"/><circle cx="26.2" cy="27.8" r="0.75"/><circle cx="26.9" cy="29.8" r="0.75"/><circle cx="26.6" cy="31.5" r="0.75"/><circle cx="27.3" cy="33.3" r="0.75"/><circle cx="26.1" cy="35.0" r="0.75"/><circle cx="27.2" cy="36.6" r="0.75"/><circle cx="26.4" cy="38.2" r="0.75"/><circle cx="27.0" cy="39.7" r="0.75"/><circle cx="27.8" cy="0.9" r="0.75"/><circle cx="28.8" cy="2.6" r="0.75"/><circle cx="27.7" cy="4.1" r="0.75"/><circle cx="29.2" cy="5.7" r="0.75"/><circle cx="28.1" cy="7.6" r="0.75"/><circle cx="28.7" cy="9.7" r="0.75"/><circle cx="27.9" cy="11.3" r="0.75"/><circle cx="28.6" cy="12.4" r="0.75"/><circle cx="28.3" cy="14.4" r="0.75"/><circle cx="28.5" cy="16.1" r="0.75"/><circle cx="28.0" cy="18.0" r="0.75"/><circle cx="28.6" cy="19.3" r="0.75"/><circle cx="28.4" cy="21.4" r="0.75"/><circle cx="28.6" cy="22.8" r="0.75"/><circle cx="27.9" cy="24.8" r="0.75"/><circle cx="29.0" cy="26.6" r="0.75"/><circle cx="28.3" cy="28.1" r="0.75"/><circle cx="29.1" cy="29.9" r="0.75"/><circle cx="28.3" cy="31.4" r="0.75"/><circle cx="29.1" cy="33.3" r="0.75"/><circle cx="28.4" cy="34.6" r="0.75"/><circle cx="29.2" cy="36.2" r="0.75"/><circle cx="28.3" cy="38.3" r="0.75"/><circle cx="28.9" cy="40.3" r="0.75"/><circle cx="29.8" cy="0.8" r="0.75"/><circle cx="30.8" cy="2.8" r="0.75"/><circle cx="29.8" cy="4.2" r="0.75"/><circle cx="30.6" cy="5.9" r="0.75"/><circle cx="29.9" cy="7.5" r="0.75"/><circle cx="30.5" cy="9.4" r="0.75"/><circle cx="29.7" cy="10.9" r="0.75"/><circle cx="30.8" cy="13.0" r="0.75"/><circle cx="29.7" cy="14.4" r="0.75"/><circle cx="30.3" cy="16.0" r="0.75"/><circle cx="29.5" cy="17.9" r="0.75"/><circle cx="30.7" cy="19.2" r="0.75"/><circle cx="30.1" cy="21.1" r="0.75"/><circle cx="30.9" cy="23.2" r="0.75"/><circle cx="30.1" cy="24.4" r="0.75"/><circle cx="30.5" cy="26.7" r="0.75"/><circle cx="29.4" cy="27.7" r="0.75"/><circle cx="30.7" cy="29.7" r="0.75"/><circle cx="30.1" cy="31.7" r="0.75"/><circle cx="30.6" cy="33.5" r="0.75"/><circle cx="29.8" cy="34.9" r="0.75"/><circle cx="30.7" cy="36.5" r="0.75"/><circle cx="29.6" cy="38.3" r="0.75"/><circle cx="30.5" cy="40.3" r="0.75"/><circle cx="31.6" cy="0.9" r="0.75"/><circle cx="32.0" cy="2.4" r="0.75"/><circle cx="31.4" cy="4.3" r="0.75"/><circle cx="32.4" cy="6.3" r="0.75"/><circle cx="31.8" cy="7.6" r="0.75"/><circle cx="32.3" cy="9.4" r="0.75"/><circle cx="31.8" cy="10.9" r="0.75"/><circle cx="32.3" cy="13.0" r="0.75"/><circle cx="31.2" cy="14.3" r="0.75"/><circle cx="32.7" cy="16.4" r="0.75"/><circle cx="31.5" cy="17.5" r="0.75"/><circle cx="32.6" cy="19.7" r="0.75"/><circle cx="31.7" cy="21.6" r="0.75"/><circle cx="32.6" cy="22.9" r="0.75"/><circle cx="31.2" cy="24.5" r="0.75"/><circle cx="32.3" cy="26.4" r="0.75"/><circle cx="31.2" cy="27.8" r="0.75"/><circle cx="32.4" cy="29.8" r="0.75"/><circle cx="31.3" cy="31.8" r="0.75"/><circle cx="32.4" cy="32.8" r="0.75"/><circle cx="31.4" cy="35.1" r="0.75"/><circle cx="32.1" cy="36.7" r="0.75"/><circle cx="31.1" cy="38.1" r="0.75"/><circle cx="32.6" cy="40.0" r="0.75"/><circle cx="33.3" cy="0.6" r="0.75"/><circle cx="34.0" cy="2.6" r="0.75"/><circle cx="33.0" cy="4.4" r="0.75"/><circle cx="34.0" cy="6.3" r="0.75"/><circle cx="33.2" cy="7.6" r="0.75"/><circle cx="33.7" cy="9.1" r="0.75"/><circle cx="33.4" cy="10.7" r="0.75"/><circle cx="33.7" cy="12.5" r="0.75"/><circle cx="33.2" cy="14.7" r="0.75"/><circle cx="34.1" cy="16.4" r="0.75"/><circle cx="32.8" cy="17.5" r="0.75"/><circle cx="34.2" cy="19.4" r="0.75"/><circle cx="33.3" cy="21.1" r="0.75"/><circle cx="33.7" cy="22.8" r="0.75"/><circle cx="32.8" cy="25.0" r="0.75"/><circle cx="34.1" cy="26.2" r="0.75"/><circle cx="33.1" cy="28.0" r="0.75"/><circle cx="33.6" cy="30.1" r="0.75"/><circle cx="33.2" cy="31.8" r="0.75"/><circle cx="34.0" cy="33.2" r="0.75"/><circle cx="32.9" cy="34.5" r="0.75"/><circle cx="34.3" cy="36.8" r="0.75"/><circle cx="33.0" cy="38.6" r="0.75"/><circle cx="34.3" cy="39.8" r="0.75"/><circle cx="34.9" cy="1.2" r="0.75"/><circle cx="35.7" cy="2.9" r="0.75"/><circle cx="34.6" cy="4.2" r="0.75"/><circle cx="35.9" cy="5.7" r="0.75"/><circle cx="34.7" cy="8.0" r="0.75"/><circle cx="35.7" cy="9.6" r="0.75"/><circle cx="34.6" cy="10.8" r="0.75"/><circle cx="35.6" cy="12.5" r="0.75"/><circle cx="35.2" cy="14.3" r="0.75"/><circle cx="35.7" cy="15.8" r="0.75"/><circle cx="34.9" cy="17.8" r="0.75"/><circle cx="35.6" cy="19.2" r="0.75"/><circle cx="34.5" cy="21.5" r="0.75"/><circle cx="35.6" cy="22.7" r="0.75"/><circle cx="34.6" cy="24.5" r="0.75"/><circle cx="35.5" cy="26.0" r="0.75"/><circle cx="35.0" cy="27.9" r="0.75"/><circle cx="35.4" cy="29.9" r="0.75"/><circle cx="34.5" cy="31.3" r="0.75"/><circle cx="36.0" cy="32.9" r="0.75"/><circle cx="34.8" cy="35.1" r="0.75"/><circle cx="35.9" cy="36.3" r="0.75"/><circle cx="34.7" cy="38.4" r="0.75"/><circle cx="35.6" cy="40.3" r="0.75"/><circle cx="36.3" cy="1.2" r="0.75"/><circle cx="37.4" cy="2.3" r="0.75"/><circle cx="36.5" cy="4.0" r="0.75"/><circle cx="37.6" cy="5.8" r="0.75"/><circle cx="36.9" cy="7.7" r="0.75"/><circle cx="37.3" cy="9.1" r="0.75"/><circle cx="36.6" cy="10.8" r="0.75"/><circle cx="37.7" cy="12.4" r="0.75"/><circle cx="36.6" cy="14.5" r="0.75"/><circle cx="37.2" cy="16.4" r="0.75"/><circle cx="36.5" cy="18.0" r="0.75"/><circle cx="37.5" cy="19.4" r="0.75"/><circle cx="36.5" cy="20.9" r="0.75"/><circle cx="37.1" cy="23.2" r="0.75"/><circle cx="36.4" cy="24.8" r="0.75"/><circle cx="37.1" cy="26.4" r="0.75"/><circle cx="36.4" cy="28.1" r="0.75"/><circle cx="37.2" cy="29.4" r="0.75"/><circle cx="36.4" cy="31.2" r="0.75"/><circle cx="37.1" cy="33.3" r="0.75"/><circle cx="36.4" cy="34.8" r="0.75"/><circle cx="37.7" cy="36.8" r="0.75"/><circle cx="36.9" cy="38.5" r="0.75"/><circle cx="37.1" cy="39.8" r="0.75"/><circle cx="37.9" cy="1.0" r="0.75"/><circle cx="39.2" cy="2.4" r="0.75"/><circle cx="38.2" cy="4.4" r="0.75"/><circle cx="39.3" cy="5.7" r="0.75"/><circle cx="38.5" cy="7.5" r="0.75"/><circle cx="39.2" cy="9.1" r="0.75"/><circle cx="37.9" cy="11.4" r="0.75"/><circle cx="39.3" cy="12.9" r="0.75"/><circle cx="37.9" cy="14.1" r="0.75"/><circle cx="38.8" cy="15.9" r="0.75"/><circle cx="38.1" cy="17.8" r="0.75"/><circle cx="38.7" cy="19.4" r="0.75"/><circle cx="38.4" cy="21.0" r="0.75"/><circle cx="39.4" cy="23.0" r="0.75"/><circle cx="38.4" cy="24.5" r="0.75"/><circle cx="39.0" cy="26.5" r="0.75"/><circle cx="38.1" cy="27.7" r="0.75"/><circle cx="39.4" cy="30.0" r="0.75"/><circle cx="38.1" cy="31.1" r="0.75"/><circle cx="39.4" cy="33.2" r="0.75"/><circle cx="37.9" cy="34.6" r="0.75"/><circle cx="38.8" cy="36.8" r="0.75"/><circle cx="38.0" cy="38.6" r="0.75"/><circle cx="39.3" cy="39.6" r="0.75"/><circle cx="40.1" cy="0.8" r="0.75"/><circle cx="41.0" cy="2.8" r="0.75"/><circle cx="39.8" cy="3.9" r="0.75"/><circle cx="41.2" cy="5.9" r="0.75"/><circle cx="40.3" cy="7.8" r="0.75"/><circle cx="41.0" cy="9.6" r="0.75"/><circle cx="40.1" cy="11.0" r="0.75"/><circle cx="40.4" cy="12.9" r="0.75"/><circle cx="39.9" cy="14.5" r="0.75"/><circle cx="41.1" cy="15.9" r="0.75"/><circle cx="40.2" cy="17.5" r="0.75"/><circle cx="41.0" cy="19.8" r="0.75"/><circle cx="39.8" cy="21.3" r="0.75"/><circle cx="41.2" cy="23.1" r="0.75"/><circle cx="40.0" cy="24.4" r="0.75"/><circle cx="40.4" cy="26.2" r="0.75"/><circle cx="39.9" cy="27.8" r="0.75"/><circle cx="40.6" cy="29.5" r="0.75"/><circle cx="40.1" cy="31.6" r="0.75"/><circle cx="40.6" cy="32.9" r="0.75"/><circle cx="40.0" cy="34.8" r="0.75"/><circle cx="41.1" cy="36.4" r="0.75"/><circle cx="39.8" cy="38.6" r="0.75"/><circle cx="40.5" cy="40.0" r="0.75"/></g></pattern><pattern id="st3" width="42" height="42" patternUnits="userSpaceOnUse"><rect width="42" height="42" fill="#fff"/><g fill="#1a1a1a"><circle cx="1.0" cy="1.7" r="0.62"/><circle cx="2.6" cy="4.1" r="0.62"/><circle cx="0.8" cy="6.5" r="0.62"/><circle cx="2.6" cy="8.7" r="0.62"/><circle cx="1.6" cy="11.7" r="0.62"/><circle cx="2.0" cy="13.5" r="0.62"/><circle cx="1.1" cy="15.8" r="0.62"/><circle cx="1.9" cy="18.4" r="0.62"/><circle cx="0.8" cy="21.5" r="0.62"/><circle cx="2.4" cy="23.2" r="0.62"/><circle cx="1.0" cy="26.2" r="0.62"/><circle cx="2.3" cy="28.3" r="0.62"/><circle cx="0.7" cy="30.6" r="0.62"/><circle cx="3.2" cy="34.1" r="0.62"/><circle cx="0.7" cy="36.6" r="0.62"/><circle cx="3.2" cy="38.8" r="0.62"/><circle cx="3.2" cy="1.2" r="0.62"/><circle cx="4.9" cy="3.3" r="0.62"/><circle cx="3.8" cy="5.6" r="0.62"/><circle cx="5.6" cy="9.0" r="0.62"/><circle cx="3.9" cy="11.9" r="0.62"/><circle cx="5.2" cy="13.4" r="0.62"/><circle cx="3.4" cy="15.7" r="0.62"/><circle cx="4.3" cy="19.1" r="0.62"/><circle cx="4.2" cy="21.0" r="0.62"/><circle cx="4.6" cy="23.9" r="0.62"/><circle cx="4.2" cy="26.8" r="0.62"/><circle cx="4.5" cy="29.1" r="0.62"/><circle cx="4.2" cy="31.6" r="0.62"/><circle cx="4.8" cy="33.3" r="0.62"/><circle cx="4.2" cy="36.0" r="0.62"/><circle cx="4.8" cy="38.8" r="0.62"/><circle cx="6.1" cy="1.7" r="0.62"/><circle cx="7.1" cy="3.1" r="0.62"/><circle cx="6.3" cy="6.4" r="0.62"/><circle cx="7.9" cy="9.0" r="0.62"/><circle cx="6.8" cy="11.9" r="0.62"/><circle cx="7.5" cy="13.7" r="0.62"/><circle cx="5.8" cy="16.0" r="0.62"/><circle cx="7.6" cy="18.2" r="0.62"/><circle cx="6.5" cy="20.8" r="0.62"/><circle cx="7.4" cy="24.4" r="0.62"/><circle cx="5.7" cy="25.6" r="0.62"/><circle cx="7.4" cy="28.3" r="0.62"/><circle cx="6.6" cy="30.6" r="0.62"/><circle cx="8.0" cy="34.2" r="0.62"/><circle cx="6.7" cy="36.1" r="0.62"/><circle cx="7.2" cy="39.0" r="0.62"/><circle cx="8.8" cy="1.1" r="0.62"/><circle cx="9.8" cy="3.7" r="0.62"/><circle cx="9.0" cy="6.7" r="0.62"/><circle cx="10.6" cy="8.3" r="0.62"/><circle cx="8.5" cy="11.2" r="0.62"/><circle cx="10.1" cy="13.5" r="0.62"/><circle cx="8.3" cy="15.7" r="0.62"/><circle cx="9.8" cy="18.7" r="0.62"/><circle cx="9.4" cy="21.8" r="0.62"/><circle cx="10.5" cy="24.4" r="0.62"/><circle cx="9.4" cy="26.4" r="0.62"/><circle cx="10.4" cy="28.1" r="0.62"/><circle cx="9.0" cy="31.4" r="0.62"/><circle cx="9.7" cy="33.8" r="0.62"/><circle cx="9.4" cy="36.2" r="0.62"/><circle cx="10.2" cy="38.5" r="0.62"/><circle cx="11.0" cy="1.8" r="0.62"/><circle cx="11.8" cy="3.3" r="0.62"/><circle cx="11.5" cy="6.2" r="0.62"/><circle cx="11.9" cy="9.0" r="0.62"/><circle cx="11.1" cy="11.4" r="0.62"/><circle cx="12.4" cy="13.8" r="0.62"/><circle cx="11.3" cy="16.1" r="0.62"/><circle cx="12.0" cy="18.3" r="0.62"/><circle cx="11.8" cy="21.3" r="0.62"/><circle cx="12.0" cy="24.3" r="0.62"/><circle cx="10.9" cy="25.7" r="0.62"/><circle cx="12.5" cy="28.4" r="0.62"/><circle cx="11.2" cy="31.3" r="0.62"/><circle cx="12.1" cy="33.9" r="0.62"/><circle cx="10.7" cy="36.3" r="0.62"/><circle cx="12.6" cy="38.2" r="0.62"/><circle cx="13.6" cy="0.7" r="0.62"/><circle cx="14.9" cy="4.3" r="0.62"/><circle cx="13.8" cy="6.6" r="0.62"/><circle cx="15.4" cy="8.2" r="0.62"/><circle cx="14.4" cy="11.6" r="0.62"/><circle cx="14.4" cy="14.2" r="0.62"/><circle cx="13.6" cy="15.8" r="0.62"/><circle cx="15.6" cy="18.8" r="0.62"/><circle cx="14.1" cy="20.7" r="0.62"/><circle cx="15.4" cy="23.1" r="0.62"/><circle cx="13.4" cy="26.1" r="0.62"/><circle cx="14.3" cy="28.9" r="0.62"/><circle cx="13.3" cy="31.0" r="0.62"/><circle cx="15.3" cy="33.6" r="0.62"/><circle cx="14.3" cy="36.4" r="0.62"/><circle cx="15.5" cy="38.8" r="0.62"/><circle cx="16.8" cy="1.8" r="0.62"/><circle cx="17.0" cy="4.1" r="0.62"/><circle cx="16.0" cy="6.6" r="0.62"/><circle cx="17.8" cy="9.2" r="0.62"/><circle cx="15.7" cy="11.1" r="0.62"/><circle cx="17.8" cy="14.4" r="0.62"/><circle cx="16.6" cy="15.6" r="0.62"/><circle cx="17.6" cy="18.2" r="0.62"/><circle cx="16.3" cy="21.7" r="0.62"/><circle cx="17.0" cy="24.3" r="0.62"/><circle cx="16.5" cy="25.9" r="0.62"/><circle cx="17.1" cy="28.7" r="0.62"/><circle cx="16.7" cy="31.4" r="0.62"/><circle cx="17.0" cy="33.1" r="0.62"/><circle cx="15.7" cy="36.7" r="0.62"/><circle cx="17.1" cy="38.8" r="0.62"/><circle cx="18.5" cy="1.5" r="0.62"/><circle cx="19.8" cy="3.3" r="0.62"/><circle cx="19.3" cy="6.3" r="0.62"/><circle cx="20.3" cy="9.2" r="0.62"/><circle cx="19.4" cy="10.6" r="0.62"/><circle cx="19.8" cy="13.3" r="0.62"/><circle cx="18.8" cy="16.8" r="0.62"/><circle cx="20.4" cy="18.1" r="0.62"/><circle cx="18.3" cy="21.7" r="0.62"/><circle cx="20.3" cy="23.6" r="0.62"/><circle cx="18.7" cy="25.8" r="0.62"/><circle cx="20.5" cy="28.6" r="0.62"/><circle cx="19.3" cy="31.4" r="0.62"/><circle cx="19.4" cy="33.5" r="0.62"/><circle cx="18.4" cy="36.8" r="0.62"/><circle cx="20.1" cy="38.1" r="0.62"/><circle cx="20.8" cy="1.1" r="0.62"/><circle cx="22.5" cy="3.9" r="0.62"/><circle cx="21.1" cy="6.0" r="0.62"/><circle cx="21.8" cy="8.9" r="0.62"/><circle cx="21.0" cy="10.6" r="0.62"/><circle cx="22.4" cy="14.4" r="0.62"/><circle cx="20.6" cy="15.8" r="0.62"/><circle cx="22.7" cy="18.4" r="0.62"/><circle cx="20.9" cy="21.3" r="0.62"/><circle cx="22.2" cy="23.8" r="0.62"/><circle cx="21.3" cy="26.9" r="0.62"/><circle cx="23.2" cy="28.1" r="0.62"/><circle cx="21.3" cy="31.6" r="0.62"/><circle cx="23.0" cy="34.1" r="0.62"/><circle cx="21.4" cy="36.4" r="0.62"/><circle cx="22.3" cy="38.4" r="0.62"/><circle cx="24.2" cy="1.8" r="0.62"/><circle cx="25.6" cy="4.0" r="0.62"/><circle cx="23.5" cy="6.6" r="0.62"/><circle cx="25.3" cy="8.8" r="0.62"/><circle cx="23.9" cy="11.0" r="0.62"/><circle cx="25.1" cy="13.6" r="0.62"/><circle cx="23.1" cy="16.0" r="0.62"/><circle cx="24.8" cy="19.4" r="0.62"/><circle cx="23.7" cy="21.1" r="0.62"/><circle cx="24.6" cy="23.4" r="0.62"/><circle cx="23.5" cy="25.7" r="0.62"/><circle cx="24.3" cy="29.3" r="0.62"/><circle cx="23.7" cy="31.2" r="0.62"/><circle cx="25.1" cy="33.5" r="0.62"/><circle cx="23.3" cy="35.6" r="0.62"/><circle cx="24.7" cy="38.5" r="0.62"/><circle cx="26.6" cy="1.3" r="0.62"/><circle cx="28.1" cy="3.5" r="0.62"/><circle cx="26.8" cy="6.4" r="0.62"/><circle cx="26.9" cy="8.3" r="0.62"/><circle cx="26.4" cy="11.9" r="0.62"/><circle cx="27.3" cy="14.1" r="0.62"/><circle cx="26.1" cy="16.8" r="0.62"/><circle cx="26.9" cy="18.7" r="0.62"/><circle cx="26.8" cy="20.9" r="0.62"/><circle cx="27.2" cy="23.1" r="0.62"/><circle cx="25.8" cy="25.9" r="0.62"/><circle cx="27.8" cy="28.4" r="0.62"/><circle cx="26.1" cy="30.8" r="0.62"/><circle cx="27.6" cy="34.3" r="0.62"/><circle cx="26.5" cy="35.8" r="0.62"/><circle cx="27.8" cy="39.4" r="0.62"/><circle cx="28.9" cy="0.7" r="0.62"/><circle cx="30.4" cy="4.3" r="0.62"/><circle cx="28.5" cy="5.7" r="0.62"/><circle cx="29.6" cy="8.8" r="0.62"/><circle cx="29.3" cy="11.4" r="0.62"/><circle cx="30.6" cy="13.3" r="0.62"/><circle cx="28.5" cy="16.6" r="0.62"/><circle cx="30.2" cy="18.6" r="0.62"/><circle cx="29.0" cy="21.0" r="0.62"/><circle cx="29.4" cy="23.6" r="0.62"/><circle cx="28.1" cy="26.4" r="0.62"/><circle cx="29.8" cy="28.7" r="0.62"/><circle cx="28.9" cy="30.9" r="0.62"/><circle cx="29.9" cy="33.1" r="0.62"/><circle cx="29.3" cy="36.3" r="0.62"/><circle cx="30.7" cy="38.1" r="0.62"/><circle cx="31.4" cy="1.6" r="0.62"/><circle cx="32.3" cy="3.2" r="0.62"/><circle cx="30.8" cy="5.7" r="0.62"/><circle cx="32.9" cy="8.2" r="0.62"/><circle cx="31.7" cy="11.1" r="0.62"/><circle cx="32.6" cy="13.9" r="0.62"/><circle cx="31.3" cy="16.5" r="0.62"/><circle cx="32.6" cy="18.5" r="0.62"/><circle cx="31.6" cy="20.9" r="0.62"/><circle cx="32.8" cy="24.1" r="0.62"/><circle cx="31.6" cy="26.0" r="0.62"/><circle cx="32.9" cy="29.4" r="0.62"/><circle cx="31.2" cy="30.9" r="0.62"/><circle cx="32.5" cy="34.4" r="0.62"/><circle cx="30.7" cy="35.6" r="0.62"/><circle cx="32.5" cy="39.0" r="0.62"/><circle cx="34.1" cy="1.1" r="0.62"/><circle cx="35.7" cy="3.4" r="0.62"/><circle cx="34.1" cy="5.7" r="0.62"/><circle cx="34.3" cy="8.2" r="0.62"/><circle cx="33.1" cy="11.3" r="0.62"/><circle cx="35.1" cy="13.3" r="0.62"/><circle cx="34.4" cy="16.1" r="0.62"/><circle cx="34.5" cy="18.3" r="0.62"/><circle cx="34.1" cy="21.8" r="0.62"/><circle cx="34.5" cy="23.1" r="0.62"/><circle cx="34.1" cy="25.9" r="0.62"/><circle cx="35.7" cy="28.7" r="0.62"/><circle cx="33.9" cy="31.0" r="0.62"/><circle cx="35.4" cy="33.7" r="0.62"/><circle cx="33.5" cy="36.8" r="0.62"/><circle cx="34.5" cy="39.1" r="0.62"/><circle cx="35.6" cy="1.5" r="0.62"/><circle cx="37.4" cy="4.3" r="0.62"/><circle cx="35.6" cy="6.3" r="0.62"/><circle cx="37.4" cy="9.3" r="0.62"/><circle cx="36.9" cy="11.4" r="0.62"/><circle cx="37.1" cy="13.4" r="0.62"/><circle cx="35.9" cy="16.2" r="0.62"/><circle cx="37.1" cy="18.3" r="0.62"/><circle cx="36.6" cy="21.4" r="0.62"/><circle cx="37.2" cy="24.4" r="0.62"/><circle cx="35.9" cy="26.3" r="0.62"/><circle cx="37.0" cy="29.3" r="0.62"/><circle cx="36.8" cy="30.9" r="0.62"/><circle cx="37.9" cy="34.2" r="0.62"/><circle cx="35.9" cy="36.0" r="0.62"/><circle cx="37.5" cy="39.3" r="0.62"/><circle cx="38.3" cy="1.5" r="0.62"/><circle cx="40.1" cy="3.7" r="0.62"/><circle cx="38.9" cy="6.8" r="0.62"/><circle cx="39.6" cy="9.3" r="0.62"/><circle cx="38.6" cy="11.6" r="0.62"/><circle cx="40.5" cy="13.3" r="0.62"/><circle cx="39.3" cy="16.9" r="0.62"/><circle cx="39.7" cy="18.1" r="0.62"/><circle cx="38.2" cy="21.9" r="0.62"/><circle cx="39.3" cy="24.3" r="0.62"/><circle cx="38.3" cy="26.6" r="0.62"/><circle cx="39.4" cy="28.3" r="0.62"/><circle cx="39.0" cy="30.7" r="0.62"/><circle cx="39.8" cy="34.3" r="0.62"/><circle cx="39.1" cy="36.8" r="0.62"/><circle cx="40.7" cy="38.1" r="0.62"/></g></pattern></defs>
<rect width="1000" height="1000" fill="#fff"/>
<g stroke="#111" fill="none" stroke-linecap="round" stroke-linejoin="round">
<ellipse cx="462" cy="759" rx="59" ry="73" stroke-width="1.5"/>
<path d="M513,744 C518,760 519,782 515,800" stroke-width="1.4"/>
<path d="M455,697 C475,705 492,730 498,760 C502,790 490,818 466,821 C455,822 445,818 438,810" stroke-width="1.5"/>
<path d="M404,712 C415,696 432,688 449,687" stroke-width="1.4"/>
<path d="M384.0,661.0 L509.0,715.0 L514.5,721.0 L514.5,866.0 L510.0,870.0 L438.0,834.0 L380.5,806.0 L380.5,665.0 Z M385.5,669.0 L385.5,804.0 L440.0,831.0 L502.0,861.0 L506.0,858.0 L506.0,727.0 L502.0,722.0 L432.0,690.0 L420.0,682.0 L387.0,667.0 Z" fill="#fff" fill-rule="evenodd" stroke="none"/>
<path d="M380.5,706 L380.5,665 Q381,661 384,661 L509,715 Q514.5,717 514.5,721 L514.5,866 L510,870 L438,834" stroke-width="1.8"/>
<path d="M385.5,706 L385.5,669 Q386,667 388,667.5 L420,682 L432,690 L502,722 Q506,724 506,727 L506,858 L502,861 L440,831" stroke-width="1.5"/>
<path d="M374.5,704.0 L374.5,668.0 L380.5,665.0" stroke-width="1.4"/>
<path d="M376.8,703.0 L376.8,668.0" stroke-width="0.9"/>
<path d="M510.5,722.0 L510.5,862.0" stroke-width="1.0"/>
<path d="M420,682 Q421,690 426,692 L432,690" stroke-width="1.3"/>
<circle cx="425.5" cy="686.5" r="2.4" stroke-width="1.2"/>
<circle cx="502" cy="724.5" r="2.4" stroke-width="1.2"/>
<circle cx="501" cy="857" r="2.4" stroke-width="1.2"/>
<path d="M444.4,693.0 L444.4,819.0" stroke-width="1.5"/>
<path d="M453.4,696.0 L453.4,818.0" stroke-width="1.5"/>
<ellipse cx="467.8" cy="751" rx="25" ry="29" fill="#fff" stroke-width="1.7"/>
<ellipse cx="469.5" cy="753.5" rx="12.5" ry="22.5" stroke-width="1.4"/>
<path d="M458,720 C470,722 482,735 486,750" stroke-width="1.2"/>
<path d="M480.0,779.0 L498.0,806.0" stroke-width="1.5"/>
<path d="M487.0,775.0 L503.0,799.0" stroke-width="1.5"/>
<path d="M456.0,703.0 L488.0,737.0" stroke-width="1.3"/>
<circle cx="444.4" cy="729" r="2.6" fill="#fff" stroke-width="1.3"/>
<circle cx="466" cy="785" r="2.6" fill="#fff" stroke-width="1.3"/>
<circle cx="484" cy="745.5" r="2.6" fill="#fff" stroke-width="1.3"/>
<path d="M238.8,686.0 L256.0,677.5 L421.4,750.7 L401.3,761.0 Z" fill="#fff" stroke-width="1.7"/>
<line x1="246" y1="683.5" x2="409" y2="757.5" stroke-width="1.1"/>
<line x1="250" y1="681.5" x2="413" y2="755.5" stroke-width="1.0"/>
<path d="M238.8,686.0 L401.3,761.0 L401.3,914.0 L238.4,836.0 Z" fill="#fff" stroke-width="1.8"/>
<line x1="238.8" y1="691" x2="401.3" y2="766" stroke-width="1.3"/>
<line x1="238.8" y1="697.0" x2="401.3" y2="770.0" stroke-width="1.6"/>
<line x1="238.8" y1="705.2" x2="401.3" y2="778.4" stroke-width="1.6"/>
<line x1="238.8" y1="713.4" x2="401.3" y2="786.9" stroke-width="1.6"/>
<line x1="238.8" y1="721.6" x2="401.3" y2="795.3" stroke-width="1.6"/>
<line x1="264.8" y1="741.6" x2="297.2" y2="756.3" stroke-width="1.6"/>
<line x1="312.6" y1="763.3" x2="401.3" y2="803.8" stroke-width="1.6"/>
<line x1="264.8" y1="749.8" x2="303.7" y2="767.6" stroke-width="1.6"/>
<line x1="317.9" y1="774.1" x2="401.3" y2="812.2" stroke-width="1.6"/>
<line x1="264.8" y1="758.0" x2="303.1" y2="775.6" stroke-width="1.6"/>
<line x1="318.8" y1="782.8" x2="401.3" y2="820.6" stroke-width="1.6"/>
<line x1="264.8" y1="766.3" x2="304.3" y2="784.5" stroke-width="1.6"/>
<line x1="319.1" y1="791.3" x2="401.3" y2="829.1" stroke-width="1.6"/>
<line x1="264.8" y1="774.5" x2="308.3" y2="794.6" stroke-width="1.6"/>
<line x1="326.7" y1="803.1" x2="401.3" y2="837.5" stroke-width="1.6"/>
<line x1="264.8" y1="782.7" x2="310.8" y2="804.0" stroke-width="1.6"/>
<line x1="322.9" y1="809.6" x2="401.3" y2="845.9" stroke-width="1.6"/>
<line x1="264.8" y1="791.0" x2="310.4" y2="812.1" stroke-width="1.6"/>
<line x1="329.0" y1="820.8" x2="401.3" y2="854.4" stroke-width="1.6"/>
<line x1="264.8" y1="799.2" x2="322.1" y2="825.9" stroke-width="1.6"/>
<line x1="330.8" y1="830.0" x2="401.3" y2="862.8" stroke-width="1.6"/>
<line x1="238.8" y1="795.2" x2="320.9" y2="833.6" stroke-width="1.6"/>
<line x1="341.6" y1="843.3" x2="401.3" y2="871.2" stroke-width="1.6"/>
<line x1="238.8" y1="803.4" x2="323.9" y2="843.4" stroke-width="1.6"/>
<line x1="340.0" y1="850.9" x2="401.3" y2="879.7" stroke-width="1.6"/>
<line x1="238.8" y1="811.6" x2="327.4" y2="853.4" stroke-width="1.6"/>
<line x1="335.8" y1="857.3" x2="401.3" y2="888.1" stroke-width="1.6"/>
<line x1="238.8" y1="819.8" x2="332.4" y2="864.0" stroke-width="1.6"/>
<line x1="341.3" y1="868.2" x2="401.3" y2="896.6" stroke-width="1.6"/>
<line x1="238.8" y1="828.0" x2="331.9" y2="872.1" stroke-width="1.6"/>
<line x1="343.2" y1="877.5" x2="401.3" y2="905.0" stroke-width="1.6"/>
<path d="M216.8,676.6 L231.6,670.0 L246.0,673.0 L255.6,674.8 L256.2,677.8 L246.0,683.8 L238.8,685.0 L229.2,683.8 Z" fill="#fff" stroke-width="1.6"/>
<path d="M216.8,676.6 L216.8,821 Q217,829 228.5,831.5 L231.5,835 L238.8,836 L238.8,685" fill="#fff" stroke-width="1.8"/>
<line x1="228.6" y1="683.8" x2="228.6" y2="831.5" stroke-width="1.5"/>
<line x1="231.6" y1="684" x2="231.6" y2="835" stroke-width="1.1"/>
<line x1="229.2" y1="683.8" x2="238.8" y2="685" stroke-width="1.2"/>
<path d="M401.3,761.0 L421.4,750.7 L435.7,758.5 L435.7,762.0 L420.0,768.0 L406.0,765.0 Z" fill="#fff" stroke-width="1.6"/>
<path d="M401.3,761 L401.3,915 L421,921.5 Q435.7,918 435.7,908 L435.7,762" fill="#fff" stroke-width="1.8"/>
<line x1="406.3" y1="765" x2="406.3" y2="917" stroke-width="1.6"/>
<line x1="420.5" y1="768" x2="420.5" y2="921" stroke-width="1.4"/>
<line x1="404" y1="763" x2="404" y2="916" stroke-width="0.9"/>
<path d="M435.7,768 L447,766 M435.7,785 L447,783" stroke-width="1.5"/>
<ellipse cx="447" cy="774.5" rx="3.5" ry="8.5" stroke-width="1.5" fill="#fff"/>
<path d="M578.6,530 C582,514 594,498 605,488 C616,477 630,465 642,459 C650,455 656,454 662,454 C672,454 678,457 684,460 L732,480.7 L752.8,489.8 L751.5,497.6 L641,563.9 Z" fill="#fff" stroke-width="1.8"/>
<path d="M581.2,539 L583,564 Q584,571 590,573 L640,592.5 L735,548 Q742.4,544 742.4,535 L742.4,506" fill="#fff" stroke-width="1.8"/>
<path d="M578.6,530.4 L638.0,560.0 L752.3,490.0" stroke-width="1.5"/>
<path d="M580.0,535.0 L639.0,564.0 L751.0,494.5" stroke-width="1.1"/>
<path d="M581.5,539.0 L640.0,568.0 L749.0,499.0" stroke-width="1.5"/>
<line x1="639.7" y1="568" x2="639.7" y2="593.8" stroke-width="1.3"/>
<path d="M578.6,526.8 L611.0,539.4 L625.4,544.8 L733.4,482.7" stroke-width="1.3"/>
<line x1="679.4" y1="514.2" x2="729.8" y2="490.8" stroke-width="0.9"/>
<line x1="630" y1="547" x2="648" y2="537" stroke-width="0.9"/>
<path d="M620.0,488.0 C620.0,485.3 622.0,479.7 626.0,476.0 C630.0,472.3 636.3,468.3 644.0,466.0 C651.7,463.7 665.7,461.3 672.0,462.0 C678.3,462.7 680.7,466.7 682.0,470.0 C683.3,473.3 683.0,479.0 680.0,482.0 C677.0,485.0 670.0,486.3 664.0,488.0 C658.0,489.7 650.3,491.3 644.0,492.0 C637.7,492.7 630.0,492.7 626.0,492.0 C622.0,491.3 620.0,490.7 620.0,488.0 Z" stroke-width="1.4"/>
<ellipse cx="662" cy="468" rx="14" ry="8" fill="#fff" stroke-width="1.6"/>
<ellipse cx="662" cy="466" rx="10" ry="5.5" stroke-width="1.4"/>
<path d="M648,470 L648,476 Q662,486 676,476 L676,470" stroke-width="1.4"/>
<path d="M717.0,507.0 L721.0,503.0 L731.6,505.0 L728.0,511.5 Z" fill="#fff" stroke-width="1.3"/>
<path d="M654.0,549.0 L658.0,545.0 L672.0,547.0 L668.0,554.0 Z" fill="#fff" stroke-width="1.3"/>
<path d="M583,536 L566,537 M583,550 L566,551" stroke-width="1.5"/>
<ellipse cx="566" cy="544" rx="3.5" ry="7.5" fill="#fff" stroke-width="1.5"/>
<circle cx="632" cy="205" r="10.8" fill="#111" stroke="none"/>
<path d="M632.0,205.0 C628.7,207.8 617.0,215.5 612.0,222.0 C607.0,228.5 603.0,236.8 602.0,244.0 C601.0,251.2 602.0,257.8 606.0,265.0 C610.0,272.2 617.0,278.2 626.0,287.0 C635.0,295.8 649.0,310.7 660.0,318.0 C671.0,325.3 684.5,327.3 692.0,331.0 C699.5,334.7 703.7,336.7 705.0,340.0 C706.3,343.3 705.8,348.0 700.0,351.0 C694.2,354.0 675.0,356.8 670.0,358.0" stroke-width="21.6" stroke-linecap="butt"/>
<circle cx="632" cy="205" r="9.0" fill="url(#st)" stroke="none"/>
<path d="M632.0,205.0 C628.7,207.8 617.0,215.5 612.0,222.0 C607.0,228.5 603.0,236.8 602.0,244.0 C601.0,251.2 602.0,257.8 606.0,265.0 C610.0,272.2 617.0,278.2 626.0,287.0 C635.0,295.8 649.0,310.7 660.0,318.0 C671.0,325.3 684.5,327.3 692.0,331.0 C699.5,334.7 703.7,336.7 705.0,340.0 C706.3,343.3 705.8,348.0 700.0,351.0 C694.2,354.0 675.0,356.8 670.0,358.0" stroke="url(#st)" stroke-width="18" stroke-linecap="butt"/>
<ellipse cx="670" cy="357.5" rx="6" ry="10" transform="rotate(0 670 357.5)" fill="url(#st)" stroke-width="1.8"/>
<circle cx="519" cy="319" r="11.3" fill="#111" stroke="none"/>
<path d="M519.0,319.0 C516.7,322.5 507.8,332.8 505.0,340.0 C502.2,347.2 500.8,354.8 502.0,362.0 C503.2,369.2 506.3,376.0 512.0,383.0 C517.7,390.0 527.3,396.8 536.0,404.0 C544.7,411.2 554.3,420.2 564.0,426.0 C573.7,431.8 587.0,435.3 594.0,439.0 C601.0,442.7 605.0,444.8 606.0,448.0 C607.0,451.2 605.7,455.2 600.0,458.0 C594.3,460.8 576.7,463.8 572.0,465.0" stroke-width="22.6" stroke-linecap="butt"/>
<circle cx="519" cy="319" r="9.5" fill="url(#st)" stroke="none"/>
<path d="M519.0,319.0 C516.7,322.5 507.8,332.8 505.0,340.0 C502.2,347.2 500.8,354.8 502.0,362.0 C503.2,369.2 506.3,376.0 512.0,383.0 C517.7,390.0 527.3,396.8 536.0,404.0 C544.7,411.2 554.3,420.2 564.0,426.0 C573.7,431.8 587.0,435.3 594.0,439.0 C601.0,442.7 605.0,444.8 606.0,448.0 C607.0,451.2 605.7,455.2 600.0,458.0 C594.3,460.8 576.7,463.8 572.0,465.0" stroke="url(#st)" stroke-width="19" stroke-linecap="butt"/>
<ellipse cx="522" cy="313.5" rx="4.5" ry="4.2" stroke-width="2.2" fill="url(#st2)"/>
<path d="M519.5,311.5 L524.5,315.5 M524,311.5 L520,315.5" stroke-width="1"/>
<path d="M498,324 Q503,314 514,312 L510,320 Q503,326 500,330 Z" fill="#fff" stroke-width="1.4"/>
<ellipse cx="570" cy="465" rx="6" ry="10" transform="rotate(0 570 465)" fill="url(#st)" stroke-width="1.8"/>
<path d="M307.0,431.5 C311.6,430.3 313.0,431.1 315.4,434.0 C317.8,436.9 320.5,444.5 321.4,449.0 C322.2,453.5 321.5,458.2 320.5,461.0 C319.5,463.8 318.5,464.8 315.4,466.0 C312.3,467.2 305.5,466.8 301.8,468.0 C298.1,469.2 295.0,470.2 293.3,473.0 C291.6,475.8 292.2,479.0 291.6,485.0 C291.1,491.0 291.4,501.5 290.0,508.8 C288.6,516.1 285.8,523.9 283.0,529.0 C280.2,534.1 275.8,536.9 273.0,539.5 C270.2,542.1 268.6,543.8 266.0,544.6 C263.4,545.5 259.4,546.0 257.6,544.6 C255.8,543.2 255.0,538.8 255.0,536.0 C255.0,533.2 255.8,529.6 257.6,527.6 C259.4,525.6 264.0,526.9 266.0,524.0 C268.0,521.1 268.7,517.3 269.5,510.5 C270.3,503.7 270.4,490.9 271.0,483.0 C271.6,475.1 271.8,468.3 273.0,463.0 C274.2,457.7 275.5,454.7 278.0,451.0 C280.5,447.3 283.2,444.2 288.0,441.0 C292.8,437.8 302.4,432.7 307.0,431.5 Z" fill="url(#st)" stroke-width="2.0"/>
<ellipse cx="261" cy="536" rx="5.5" ry="9.5" transform="rotate(-30 261 536)" fill="url(#st)" stroke-width="1.8"/>
<path d="M347.0,588.0 C347.0,583.7 346.2,567.8 347.0,562.0 C347.8,556.2 349.5,554.8 352.0,553.0 C354.5,551.2 357.3,550.8 362.0,551.0 C366.7,551.2 370.5,555.3 380.0,554.0 C389.5,552.7 409.0,544.0 419.0,543.0 C429.0,542.0 431.5,544.5 440.0,548.0 C448.5,551.5 460.0,563.2 470.0,564.0 C480.0,564.8 492.3,555.5 500.0,553.0 C507.7,550.5 513.3,549.7 516.0,549.0" stroke-width="18.5" stroke-linecap="butt"/>
<path d="M347.0,588.0 C347.0,583.7 346.2,567.8 347.0,562.0 C347.8,556.2 349.5,554.8 352.0,553.0 C354.5,551.2 357.3,550.8 362.0,551.0 C366.7,551.2 370.5,555.3 380.0,554.0 C389.5,552.7 409.0,544.0 419.0,543.0 C429.0,542.0 431.5,544.5 440.0,548.0 C448.5,551.5 460.0,563.2 470.0,564.0 C480.0,564.8 492.3,555.5 500.0,553.0 C507.7,550.5 513.3,549.7 516.0,549.0" stroke="url(#st)" stroke-width="14.5" stroke-linecap="butt"/>
<ellipse cx="516" cy="549.3" rx="5" ry="8" transform="rotate(0 516 549.3)" fill="url(#st)" stroke-width="1.8"/>
<ellipse cx="347" cy="588.5" rx="7.3" ry="2.8" transform="rotate(0 347 588.5)" fill="url(#st)" stroke-width="1.8"/>
<path d="M353.8,597.4 C351.2,595.7 340.4,594.4 338.2,597.4 C336.0,600.4 337.8,610.8 340.8,615.6 C343.8,620.4 352.5,622.5 356.4,626.0 C360.3,629.5 365.9,632.9 364.2,636.4 C362.5,639.9 350.3,644.6 346.0,646.8 C341.7,649.0 338.2,647.4 338.2,649.4 C338.2,651.4 339.9,659.8 346.0,658.5 C352.1,657.2 369.2,647.0 374.6,641.6 C380.0,636.2 379.8,629.9 378.5,626.0 C377.2,622.1 370.9,621.2 366.8,618.2 C362.7,615.2 356.0,611.3 353.8,607.8 C351.6,604.3 356.4,599.1 353.8,597.4 Z" fill="url(#st)" stroke-width="2.0"/>
<ellipse cx="339.5" cy="653.3" rx="5" ry="8" transform="rotate(-25 339.5 653.3)" fill="url(#st)" stroke-width="1.8"/>
<ellipse cx="346" cy="597.5" rx="7.8" ry="2.8" transform="rotate(0 346 597.5)" fill="url(#st)" stroke-width="1.8"/>
<path d="M354.0,197.0 C357.0,195.7 362.2,198.0 364.0,199.0 C365.8,200.0 365.5,201.0 365.0,203.0 C364.5,205.0 362.2,208.3 361.0,211.0 C359.8,213.7 358.3,216.2 358.0,219.0 C357.7,221.8 360.0,225.8 359.0,228.0 C358.0,230.2 354.5,231.4 352.0,232.0 C349.5,232.6 345.5,233.7 344.0,231.5 C342.5,229.3 342.7,223.1 343.0,219.0 C343.3,214.9 344.2,210.7 346.0,207.0 C347.8,203.3 351.0,198.3 354.0,197.0 Z" fill="url(#st)" stroke-width="2.0"/>
<circle cx="351.5" cy="212" r="3" stroke-width="1.3"/>
<path d="M344,229.5 Q352,231 359,227.5" stroke-width="3"/>
<path d="M714.0,420.0 C717.8,416.0 732.2,400.2 737.0,396.0 C741.8,391.8 741.3,394.0 743.0,395.0 C744.7,396.0 746.2,393.2 747.0,402.0 C747.8,410.8 747.8,440.3 748.0,448.0" stroke-width="10.1" stroke-linecap="butt"/>
<path d="M714.0,420.0 C717.8,416.0 732.2,400.2 737.0,396.0 C741.8,391.8 741.3,394.0 743.0,395.0 C744.7,396.0 746.2,393.2 747.0,402.0 C747.8,410.8 747.8,440.3 748.0,448.0" stroke="url(#st)" stroke-width="6.5" stroke-linecap="butt"/>
<ellipse cx="714" cy="420" rx="2.8" ry="4.2" transform="rotate(40 714 420)" fill="url(#st)" stroke-width="1.5"/>
<ellipse cx="748" cy="448" rx="3.5" ry="1.8" transform="rotate(0 748 448)" fill="url(#st)" stroke-width="1.5"/>
<path d="M655.5,624.0 C655.5,629.2 656.6,647.3 655.5,655.0 C654.4,662.7 652.2,666.0 649.0,670.0 C645.8,674.0 638.2,677.5 636.0,679.0" stroke-width="12.8" stroke-linecap="butt"/>
<path d="M655.5,624.0 C655.5,629.2 656.6,647.3 655.5,655.0 C654.4,662.7 652.2,666.0 649.0,670.0 C645.8,674.0 638.2,677.5 636.0,679.0" stroke="url(#st)" stroke-width="9" stroke-linecap="butt"/>
<path d="M602.0,692.0 C606.3,690.2 623.7,682.8 628.0,681.0" stroke-width="12.8" stroke-linecap="butt"/>
<path d="M602.0,692.0 C606.3,690.2 623.7,682.8 628.0,681.0" stroke="url(#st)" stroke-width="9" stroke-linecap="butt"/>
<ellipse cx="655.5" cy="623.5" rx="4.5" ry="2.5" transform="rotate(0 655.5 623.5)" fill="url(#st)" stroke-width="1.5"/>
<ellipse cx="602" cy="692" rx="2.5" ry="4.5" transform="rotate(-20 602 692)" fill="url(#st)" stroke-width="1.5"/>
<line x1="626" y1="676" x2="631" y2="686" stroke-width="1.8"/>
<line x1="633" y1="675" x2="639" y2="684" stroke-width="1.8"/>
<path d="M264.0,666.0 L270.0,661.5 L435.0,730.5 L438.5,739.0 L430.0,745.0 L265.0,674.0 Z" fill="url(#st4)" stroke-width="1.8"/>
<path d="M264.0,666.0 L270.0,661.5 L435.0,730.5 L432.0,736.0 L265.0,668.5 Z" fill="url(#st2)" stroke-width="1.5"/>
<path d="M378,180 C392,162 404,148 420,142 L540,109 C560,103 578,97 598,96" stroke-width="9.5" stroke-linecap="butt"/>
<path d="M378,180 C392,162 404,148 420,142 L540,109 C560,103 578,97 598,96" stroke="#fff" stroke-width="6.2" stroke-linecap="butt"/>
<ellipse cx="378" cy="180" rx="4.2" ry="4.8" transform="rotate(40 378 180)" fill="#fff" stroke-width="1.6"/>
<ellipse cx="599" cy="96" rx="3.5" ry="4.6" fill="#fff" stroke-width="1.6"/>
<path d="M422,137 Q419,148 427,160 L439,160 Q441,148 437,137" fill="#fff" stroke-width="1.6"/>
<ellipse cx="425" cy="140" rx="3" ry="5" fill="#fff" stroke-width="1.5"/>
<ellipse cx="435" cy="138" rx="3" ry="5" fill="#fff" stroke-width="1.5"/>
<ellipse cx="433" cy="156" rx="3" ry="2" stroke-width="1.3"/>
<path d="M540,104 Q537,115 545,127 L557,127 Q559,115 555,104" fill="#fff" stroke-width="1.6"/>
<ellipse cx="543" cy="107" rx="3" ry="5" fill="#fff" stroke-width="1.5"/>
<ellipse cx="553" cy="105" rx="3" ry="5" fill="#fff" stroke-width="1.5"/>
<ellipse cx="551" cy="123" rx="3" ry="2" stroke-width="1.3"/>
<path d="M404.0,176.0 L550.0,131.0 L572.0,141.0 L432.0,185.0 L418.0,201.0 L404.0,180.0 Z" fill="#fff" stroke-width="1.6"/>
<line x1="410" y1="181" x2="556" y2="136" stroke-width="1.1"/>
<line x1="414" y1="184" x2="560" y2="139" stroke-width="1.0"/>
<line x1="410" y1="183" x2="428" y2="185" stroke-width="1.1"/>
<ellipse cx="553" cy="137" rx="2.2" ry="1.5" stroke-width="1.1"/>
<ellipse cx="428" cy="179" rx="2.2" ry="1.5" stroke-width="1.1"/>
<path d="M373.2,293.6 L378.8,290.8 L409.6,272.6 L412.4,269.1 L418.0,269.8 L420.8,274.0 L426.4,273.3 L432.0,274.0 L439.0,273.3 L446.0,275.4 L448.8,282.4 L446.0,292.2 L439.0,296.4 L430.6,299.2 L429.2,306.2 L430.6,318.8 L429.2,330.0 L423.6,334.2 L418.0,339.8 L406.8,342.6 L398.4,345.4 L394.2,349.6 L386.0,349.0 L383.0,338.4 L373.2,334.2 L362.0,325.8 L360.6,316.0 L366.2,311.8 L373.2,302.0 Z" fill="#fff" stroke-width="1.6"/>
<path d="M335.4,318.8 L338.2,303.4 L348,302 L350,313.2 L360.6,313.2 L373,318 L383,338.4 L360,346 L339.6,351 Z" fill="#fff" stroke-width="1.6"/>
<path d="M342,318 Q346,335 344,350" stroke-width="1.2"/>
<ellipse cx="338" cy="335" rx="10" ry="16.8" transform="rotate(-14 338 335)" fill="#fff" stroke-width="1.9"/>
<ellipse cx="337" cy="335.5" rx="6.2" ry="13" transform="rotate(-14 337 335.5)" stroke-width="1.5"/>
<ellipse cx="336.5" cy="335.5" rx="4.8" ry="11.5" transform="rotate(-14 336.5 335.5)" stroke-width="0.9"/>
<ellipse cx="353" cy="331" rx="4" ry="5" stroke-width="1.3"/>
<path d="M350,320 L362,318 L368,330 L362,338" stroke-width="1.2"/>
<ellipse cx="393.5" cy="318.4" rx="15.2" ry="17.8" fill="#fff" stroke-width="1.7"/>
<ellipse cx="390.9" cy="319" rx="14" ry="17" fill="#fff" stroke-width="1.3"/>
<ellipse cx="387" cy="320.5" rx="10.5" ry="13.5" fill="#fff" stroke-width="1.4"/>
<ellipse cx="384.5" cy="321" rx="8" ry="10" fill="#fff" stroke-width="1.2"/>
<ellipse cx="381" cy="320.5" rx="4.5" ry="5.5" fill="#fff" stroke-width="1.4"/>
<ellipse cx="380.3" cy="320.8" rx="1.8" ry="2.4" stroke-width="1.2"/>
<path d="M380.5,300 Q385,297 389,300 L389,303 Q385,305 380.5,303 Z" fill="#666" stroke-width="1.2"/>
<ellipse cx="405.6" cy="287.5" rx="3.2" ry="3.8" fill="#fff" stroke-width="1.3"/>
<ellipse cx="414.6" cy="293.6" rx="2.8" ry="2.5" fill="#fff" stroke-width="1.3"/>
<ellipse cx="426.9" cy="299.3" rx="3.8" ry="3.2" fill="#fff" stroke-width="1.3"/>
<ellipse cx="425.5" cy="310.8" rx="4.2" ry="3.2" fill="#fff" stroke-width="1.3"/>
<ellipse cx="423.7" cy="331.7" rx="4.3" ry="3.3" fill="#fff" stroke-width="1.3"/>
<ellipse cx="402.7" cy="341.6" rx="5" ry="2.8" fill="#fff" stroke-width="1.3"/>
<ellipse cx="426" cy="277" rx="4.6" ry="4.6" fill="#fff" stroke-width="1.3"/>
<ellipse cx="442.6" cy="282.2" rx="5.5" ry="5" fill="#fff" stroke-width="1.3"/>
<ellipse cx="442.6" cy="282.2" rx="2.5" ry="2.5" fill="#fff" stroke-width="1.3"/>
<path d="M407,300 Q410,297 416,298 L427,303 Q428,307 424,308 L412,307.5 Q407,306 407,300 Z" fill="#fff" stroke-width="1.3"/>
<ellipse cx="413.7" cy="303.2" rx="2.2" ry="2.2" stroke-width="1.1"/>
<path d="M412,269 Q416,266 420,269 L420.3,274 Q416,276 412,274 Z" fill="#666" stroke-width="1.2"/>
<path d="M386.5,340 L393.7,340 L393,350 L389,352 L386.5,348 Z" fill="#666" stroke-width="1.2"/>
<path d="M410,312 Q414,318 420,320 M412,322 L418,326 M430,296 L436,292 M418,281 L424,286" stroke-width="1.1"/>
<path d="M379,293 L383,290 L385,296" stroke-width="1.2"/>
<path d="M374,303 L377,299" stroke-width="1.2"/>
<path d="M425.0,370.5 C426.0,369.1 428.0,366.6 430.0,366.5 C432.0,366.4 433.7,367.2 437.0,370.0 C440.3,372.8 447.0,380.0 450.0,383.0 C453.0,386.0 454.3,386.2 455.0,388.0 C455.7,389.8 455.0,392.1 454.0,393.5 C453.0,394.9 450.8,396.6 449.0,396.5 C447.2,396.4 446.5,395.9 443.0,393.0 C439.5,390.1 431.2,382.0 428.0,379.0 C424.8,376.0 424.5,376.4 424.0,375.0 C423.5,373.6 424.0,371.9 425.0,370.5 Z" fill="#fff" stroke-width="1.6"/>
<path d="M428,372 Q436,378 446,391 M431,370 Q440,377 450,389" stroke-width="1.1"/>
<path d="M438,372 L444,364 L460,378 L452,386 Z" fill="#fff" stroke="none"/>
<path d="M438,372 Q440,366 444,363 M452,386 Q458,383 460,378" stroke-width="1.5"/>
<ellipse cx="452" cy="371.5" rx="9" ry="9.5" transform="rotate(-30 452 371.5)" fill="#fff" stroke-width="1.7"/>
<ellipse cx="453" cy="371" rx="6.3" ry="6.8" transform="rotate(-30 453 371)" stroke-width="1.4"/>
<path d="M679,153 L691,143 L692,131 Q693,128 697,128 L701,129 L704,128 Q714,127 717,131 Q720,136 720,146 L720,159 L725,161 Q727,164 725,168 L718,171 L702,170 L695,172 Z" fill="#fff" stroke-width="1.6"/>
<path d="M702,129 Q700,134 697,137 Q694,141 691,143" stroke-width="1.2"/>
<path d="M699,165 Q708,158 714,152" stroke-width="1.2"/>
<ellipse cx="697" cy="130" rx="4" ry="2" stroke-width="1.1"/>
<ellipse cx="710" cy="130" rx="5" ry="2.2" stroke-width="1.1"/>
<ellipse cx="687" cy="162.5" rx="11" ry="10.5" transform="rotate(-30 687 162.5)" fill="#fff" stroke-width="1.8"/>
<ellipse cx="686" cy="163.5" rx="7.5" ry="7.5" transform="rotate(-30 686 163.5)" stroke-width="1.5"/>
<ellipse cx="369" cy="189" rx="7.5" ry="6" transform="rotate(-20 369 189)" stroke-width="1.6"/>
<ellipse cx="366" cy="190" rx="7.5" ry="6" transform="rotate(-20 366 190)" stroke-width="1.6" fill="none"/>
<rect x="361.2379851830437" y="181.51875206152033" width="8.625" height="5.25" rx="1.5" transform="rotate(-40 365.5504851830437 184.14375206152033)" fill="#fff" stroke-width="1.4"/>
<path d="M363.82548518304367,181.51875206152033 L363.82548518304367,186.76875206152033 M366.4129851830437,181.51875206152033 L366.4129851830437,186.76875206152033" transform="rotate(-40 365.5504851830437 184.14375206152033)" stroke-width="0.9"/>
<ellipse cx="474.5" cy="353" rx="9" ry="11.5" transform="rotate(-30 474.5 353)" stroke-width="1.6"/>
<ellipse cx="471" cy="355" rx="9" ry="11.5" transform="rotate(-30 471 355)" stroke-width="1.6" fill="none"/>
<rect x="462.2875" y="341.538672463655" width="10" height="6" rx="1.5" transform="rotate(-50 467.2875 344.538672463655)" fill="#fff" stroke-width="1.4"/>
<path d="M465.2875,341.538672463655 L465.2875,347.538672463655 M468.2875,341.538672463655 L468.2875,347.538672463655" transform="rotate(-50 467.2875 344.538672463655)" stroke-width="0.9"/>
<ellipse cx="653.4" cy="362" rx="8" ry="10.2" transform="rotate(-25 653.4 362)" stroke-width="1.6"/>
<ellipse cx="649" cy="364" rx="8" ry="10.2" transform="rotate(-25 649 364)" stroke-width="1.6" fill="none"/>
<rect x="642.1048290437327" y="351.21787754361486" width="10" height="6" rx="1.5" transform="rotate(-45 647.1048290437327 354.21787754361486)" fill="#fff" stroke-width="1.4"/>
<path d="M645.1048290437327,351.21787754361486 L645.1048290437327,357.21787754361486 M648.1048290437327,351.21787754361486 L648.1048290437327,357.21787754361486" transform="rotate(-45 647.1048290437327 354.21787754361486)" stroke-width="0.9"/>
<ellipse cx="665" cy="179" rx="9" ry="10" transform="rotate(-25 665 179)" stroke-width="1.6"/>
<ellipse cx="661" cy="181" rx="9" ry="10" transform="rotate(-25 661 181)" stroke-width="1.6" fill="none"/>
<rect x="653.9851265134633" y="168.39007602315183" width="10" height="6" rx="1.5" transform="rotate(-45 658.9851265134633 171.39007602315183)" fill="#fff" stroke-width="1.4"/>
<path d="M656.9851265134633,168.39007602315183 L656.9851265134633,174.39007602315183 M659.9851265134633,168.39007602315183 L659.9851265134633,174.39007602315183" transform="rotate(-45 658.9851265134633 171.39007602315183)" stroke-width="0.9"/>
<ellipse cx="339" cy="438" rx="10" ry="18" transform="rotate(-10 339 438)" stroke-width="1.6"/>
<ellipse cx="335" cy="439" rx="10" ry="18" transform="rotate(-10 335 439)" stroke-width="1.6" fill="none"/>
<rect x="329.03061616189547" y="418.65978742349125" width="10" height="6" rx="1.5" transform="rotate(-30 334.03061616189547 421.65978742349125)" fill="#fff" stroke-width="1.4"/>
<path d="M332.03061616189547,418.65978742349125 L332.03061616189547,424.65978742349125 M335.03061616189547,418.65978742349125 L335.03061616189547,424.65978742349125" transform="rotate(-30 334.03061616189547 421.65978742349125)" stroke-width="0.9"/>
<ellipse cx="241" cy="541" rx="8.5" ry="11" transform="rotate(-20 241 541)" stroke-width="1.6"/>
<ellipse cx="237" cy="542" rx="8.5" ry="11" transform="rotate(-20 237 542)" stroke-width="1.6" fill="none"/>
<rect x="230.42588950224678" y="528.6802121127872" width="10" height="6" rx="1.5" transform="rotate(-40 235.42588950224678 531.6802121127872)" fill="#fff" stroke-width="1.4"/>
<path d="M233.42588950224678,528.6802121127872 L233.42588950224678,534.6802121127872 M236.42588950224678,528.6802121127872 L236.42588950224678,534.6802121127872" transform="rotate(-40 235.42588950224678 531.6802121127872)" stroke-width="0.9"/>
<ellipse cx="461" cy="527" rx="9" ry="10" transform="rotate(-20 461 527)" stroke-width="1.6"/>
<ellipse cx="458" cy="529" rx="9" ry="10" transform="rotate(-20 458 529)" stroke-width="1.6" fill="none"/>
<rect x="451.25080863840617" y="516.0729201025339" width="10" height="6" rx="1.5" transform="rotate(-40 456.25080863840617 519.0729201025339)" fill="#fff" stroke-width="1.4"/>
<path d="M454.25080863840617,516.0729201025339 L454.25080863840617,522.0729201025339 M457.25080863840617,516.0729201025339 L457.25080863840617,522.0729201025339" transform="rotate(-40 456.25080863840617 519.0729201025339)" stroke-width="0.9"/>
<ellipse cx="552" cy="544" rx="6" ry="10" transform="rotate(-10 552 544)" stroke-width="1.6"/>
<ellipse cx="549" cy="545" rx="6" ry="10" transform="rotate(-10 549 545)" stroke-width="1.6" fill="none"/>
<rect x="543.8503423121641" y="532.144326346384" width="10" height="6" rx="1.5" transform="rotate(-30 548.8503423121641 535.144326346384)" fill="#fff" stroke-width="1.4"/>
<path d="M546.8503423121641,532.144326346384 L546.8503423121641,538.144326346384 M549.8503423121641,532.144326346384 L549.8503423121641,538.144326346384" transform="rotate(-30 548.8503423121641 535.144326346384)" stroke-width="0.9"/>
<ellipse cx="327" cy="658" rx="8" ry="10" transform="rotate(-20 327 658)" stroke-width="1.6"/>
<ellipse cx="324" cy="659" rx="8" ry="10" transform="rotate(-20 324 659)" stroke-width="1.6" fill="none"/>
<rect x="317.25080863840617" y="646.5729201025339" width="10" height="6" rx="1.5" transform="rotate(-40 322.25080863840617 649.5729201025339)" fill="#fff" stroke-width="1.4"/>
<path d="M320.25080863840617,646.5729201025339 L320.25080863840617,652.5729201025339 M323.25080863840617,646.5729201025339 L323.25080863840617,652.5729201025339" transform="rotate(-40 322.25080863840617 649.5729201025339)" stroke-width="0.9"/>
<ellipse cx="552.5" cy="470" rx="9" ry="12.5" transform="rotate(-20 552.5 470)" stroke-width="1.6"/>
<ellipse cx="549" cy="471" rx="9" ry="12.5" transform="rotate(-20 549 471)" stroke-width="1.6" fill="none"/>
<rect x="541.6885107980077" y="456.3411501281673" width="10" height="6" rx="1.5" transform="rotate(-40 546.6885107980077 459.3411501281673)" fill="#fff" stroke-width="1.4"/>
<path d="M544.6885107980077,456.3411501281673 L544.6885107980077,462.3411501281673 M547.6885107980077,456.3411501281673 L547.6885107980077,462.3411501281673" transform="rotate(-40 546.6885107980077 459.3411501281673)" stroke-width="0.9"/>
<ellipse cx="524" cy="299.5" rx="8" ry="4.8" fill="#fff" stroke-width="1.7"/>
<path d="M516,299.5 L516.5,302 Q524,308 532,302 L532,299.5" fill="#fff" stroke-width="1.6"/>
<ellipse cx="524" cy="299" rx="6" ry="3" stroke-width="1.1"/>
<path d="M513.5,294.5 L518,292.5 L520,296 L518,301 L514,300 Z" fill="#fff" stroke-width="1.4"/>
<path d="M515,296 L518.5,294.5 M515,298.5 L518.5,297" stroke-width="0.9"/>
<path d="M649.5,612 Q650,608.5 657.5,608.5 Q664,608.5 665.5,611.5 L666,615 Q664,618.5 657.5,618.5 Q650,618.5 649.5,615.5 Z" fill="#fff" stroke-width="1.7"/>
<path d="M650,612.5 Q657,615 665.5,612" stroke-width="1.2"/>
<path d="M662,611 L667.5,611.5 L668,617 L663,618" fill="#fff" stroke-width="1.4"/>
<ellipse cx="589" cy="696.5" rx="5" ry="7" transform="rotate(-15 589 696.5)" stroke-width="1.6"/>
<ellipse cx="587" cy="697.5" rx="5" ry="7" transform="rotate(-15 587 697.5)" stroke-width="1.6" fill="none"/>
<rect x="582.2538533500683" y="688.1265932551777" width="8.049999999999999" height="4.8999999999999995" rx="1.5" transform="rotate(-35 586.2788533500683 690.5765932551777)" fill="#fff" stroke-width="1.4"/>
<path d="M584.6688533500683,688.1265932551777 L584.6688533500683,693.0265932551778 M587.0838533500682,688.1265932551777 L587.0838533500682,693.0265932551778" transform="rotate(-35 586.2788533500683 690.5765932551777)" stroke-width="0.9"/>
<path d="M346,240 Q347,236 356,234.5 Q364,233.5 368,235.5 L369.5,241.5 Q368,245 358,246.5 Q348,247.5 346.5,245 Z" fill="#fff" stroke-width="1.7"/>
<path d="M346.5,241 Q350,238.5 358,238 Q365,237.5 368.5,239" stroke-width="1.2"/>
<path d="M364,234 L369,233.5 L370,240 L366,241" fill="#fff" stroke-width="1.3"/>
<path d="M524.5,271 L525.5,283 Q528,286.5 531,284 L532,271" fill="#fff" stroke-width="1.6"/>
<path d="M523,266 L523,269 Q530,275 537.3,269 L537.3,266" fill="#fff" stroke-width="1.6"/>
<ellipse cx="530.1" cy="265.8" rx="7.2" ry="5" fill="#fff" stroke-width="1.7"/>
<path d="M526,281 L531,280" stroke-width="1"/>
<path d="M591,405 Q594,401 600,402 L606,403 Q613,406 612,413 Q611,421 604,422 L596,422 Q590,420 590,412 Z" fill="#fff" stroke-width="1.7"/>
<path d="M591,405 Q589,412 591,420 L597,421 Q595,412 597,404 Z" fill="#222" stroke-width="1.2"/>
<ellipse cx="605" cy="412.5" rx="5" ry="7.5" transform="rotate(-10 605 412.5)" fill="#fff" stroke-width="1.6"/>
<path d="M587,417 L592,415 L597,420 L594,423 L588,422 Z" fill="#666" stroke-width="1.2"/>
<path d="M639,433 Q637,429 643,428 L652,427 Q662,425 672,427 Q677,428 677,431 L679,436 Q681,440 679,443 Q676,446 668,445 L652,445 Q645,444 643,440 Q638,437 639,433 Z" fill="#fff" stroke-width="1.7"/>
<ellipse cx="659" cy="433" rx="8.5" ry="3.8" stroke-width="1.3"/>
<ellipse cx="659" cy="432.5" rx="5" ry="2.3" stroke-width="1.3"/>
<ellipse cx="659" cy="432.5" rx="1.8" ry="1.2" fill="#111" stroke-width="1"/>
<path d="M651,445 L651,449 Q659,453 668,449 L668,445" fill="#fff" stroke-width="1.5"/>
<path d="M758,471 Q763,466 769,471 L769,477 L758,477 Z" fill="#fff" stroke-width="1.5"/>
<path d="M760,477 L761,492 L764,499 L767,492 L767,477" fill="#fff" stroke-width="1.4"/>
<line x1="759" y1="480" x2="768" y2="478.5" stroke-width="1.0"/>
<line x1="759" y1="483" x2="768" y2="481.5" stroke-width="1.0"/>
<line x1="759" y1="486" x2="768" y2="484.5" stroke-width="1.0"/>
<line x1="759" y1="489" x2="768" y2="487.5" stroke-width="1.0"/>
<line x1="759" y1="492" x2="768" y2="490.5" stroke-width="1.0"/>
<path d="M758,505 L758,507.5 Q765,512 772,507.5 L772,505" fill="#fff" stroke-width="1.6"/>
<ellipse cx="765" cy="504.5" rx="7" ry="3.5" fill="#fff" stroke-width="1.7"/>
<ellipse cx="765" cy="504.5" rx="3" ry="1.5" fill="#222" stroke-width="1"/>
<path d="M753.0,522.0 L761.0,516.0 L773.6,520.0 L766.0,529.0 Z" fill="#fff" stroke-width="1.5"/>
<ellipse cx="763" cy="522" rx="3" ry="2" fill="#222" stroke-width="1"/>
<path d="M245.6,634.0 C245.9,632.8 243.6,632.9 248.0,630.2 C252.4,627.5 267.6,619.4 272.0,617.6 C276.4,615.8 272.6,618.8 274.4,619.4 C276.2,620.0 281.0,620.4 282.8,621.2 C284.6,622.0 285.4,623.2 285.2,624.2 C285.0,625.2 285.8,625.0 281.6,627.2 C277.4,629.4 264.6,635.4 260.0,637.4 C255.4,639.4 256.3,639.4 254.0,639.4 C251.7,639.4 247.4,638.5 246.0,637.6 C244.6,636.7 245.3,635.2 245.6,634.0 Z" fill="#fff" stroke-width="1.6"/>
<ellipse cx="252.8" cy="635" rx="3.2" ry="2" stroke-width="1.3"/>
<path d="M260,627 L272,621 L278,625 M262,632 L276,626" stroke-width="1.1"/>
<ellipse cx="279" cy="622.5" rx="2" ry="1.3" fill="#222" stroke-width="1"/>
<path d="M246,650 Q253,645 260,650 L260,660 Q253,664 246,660 Z" fill="url(#st2)" stroke-width="1.6"/>
<ellipse cx="253" cy="649" rx="6" ry="3" fill="#fff" stroke-width="1.4"/>
<ellipse cx="251.4" cy="773.7" rx="8.2" ry="8.8" transform="rotate(-25 251.4 773.7)" fill="#fff" stroke-width="1.8"/>
<ellipse cx="249" cy="775" rx="4.8" ry="6.5" transform="rotate(-25 249 775)" stroke-width="1.4"/>
<ellipse cx="248.4" cy="775.3" rx="2.2" ry="4" transform="rotate(-25 248.4 775.3)" stroke-width="1.3"/>
<path d="M252.5,768 L255,780 M248,766 L253,768 M256,777 L259,776" stroke-width="1.2"/>
<path d="M246.5,855 Q252,851.5 259,852.5 Q261,855 260.5,861 L259,866 Q255,870 250,869 L247.5,865 Q246,860 246.5,855 Z" fill="url(#st2)" stroke-width="1.7"/>
<path d="M248,865 Q254,867 259,864" stroke-width="1.6"/>
<ellipse cx="541" cy="718" rx="6.5" ry="7.5" fill="#fff" stroke-width="1.7"/>
<ellipse cx="541" cy="718" rx="2.5" ry="3.5" stroke-width="1.3"/>
<path d="M567,703 L578.5,698.8 Q582,700 582,704 Q582,708 579,709.5 L569,713" fill="#fff" stroke-width="1.6"/>
<ellipse cx="579.5" cy="704.2" rx="2.3" ry="4.8" transform="rotate(-15 579.5 704.2)" fill="#fff" stroke-width="1.4"/>
<path d="M556,703 L564,700 L569,702 L571,710 L569,716 L561,718.5 L556,716 Z" fill="#fff" stroke-width="1.7"/>
<path d="M561,701.5 L563,717.5 M566,700.5 L568,716" stroke-width="1.1"/>
<path d="M552,706 L556,705 L556,715 L553,716 Q551,711 552,706 Z" fill="#fff" stroke-width="1.5"/>
<ellipse cx="638" cy="708" rx="8" ry="9" fill="#fff" stroke-width="1.8"/>
<ellipse cx="642" cy="707" rx="8" ry="9" stroke-width="1.8"/>
<ellipse cx="637" cy="709" rx="5" ry="6" stroke-width="1.3"/>
<path d="M647,715 L652,717 L651,720 L645,719" fill="#222" stroke-width="1.2"/>
<ellipse cx="526" cy="850.5" rx="6" ry="7" transform="rotate(-20 526 850.5)" fill="#fff" stroke-width="2.2"/>
<ellipse cx="525.5" cy="850.5" rx="2.8" ry="3.6" transform="rotate(-20 525.5 850.5)" fill="#666" stroke-width="1.4"/>
<path d="M532,845 L545,840.5 L546.5,846 L533.5,851" fill="#fff" stroke-width="1.5"/>
<path d="M535.0,843.5 L536.2,849.0" stroke-width="1"/>
<path d="M537.6,842.6 L538.8000000000001,848.1" stroke-width="1"/>
<path d="M540.2,841.7 L541.4000000000001,847.2" stroke-width="1"/>
<path d="M542.8,840.8 L544.0,846.3" stroke-width="1"/>
<path d="M543,838.5 L549,836.6 L552,839 L551.4,845 L546,847 L543.5,845 Z" fill="#fff" stroke-width="1.6"/>
<ellipse cx="548" cy="841.5" rx="1.8" ry="2.5" stroke-width="1.1"/>
<ellipse cx="493.2" cy="961.8" rx="6.5" ry="8" transform="rotate(-20 493.2 961.8)" fill="#fff" stroke-width="2.3"/>
<ellipse cx="493.5" cy="961.5" rx="3.3" ry="4.6" transform="rotate(-20 493.5 961.5)" stroke-width="1.6"/>
<path d="M509,947.5 L516,945 L518,956 L510,959.5" fill="#fff" stroke-width="1.6"/>
<ellipse cx="509" cy="953.5" rx="3" ry="6" transform="rotate(-15 509 953.5)" fill="#fff" stroke-width="1.6"/>
<path d="M512,947 L513.5,958 M514.5,946 L516,957" stroke-width="1"/>
<path d="M515.5,944 L521,940.5 L527,942 L530,949 L527.5,955.5 L520,957.8 L516.5,954 Z" fill="#fff" stroke-width="1.7"/>
<path d="M521,940.5 L523,948 L520,957.8 M523,948 L530,949" stroke-width="1.1"/>
<text transform="translate(474,94.7) scale(0.86,1)" text-anchor="middle" font-size="14.2">12</text>
<text transform="translate(523,192.7) scale(0.86,1)" text-anchor="middle" font-size="14.2">13</text>
<text transform="translate(331,189.7) scale(0.86,1)" text-anchor="middle" font-size="14.2">23</text>
<text transform="translate(387,222.7) scale(0.86,1)" text-anchor="middle" font-size="14.2">11</text>
<text transform="translate(318,249.7) scale(0.86,1)" text-anchor="middle" font-size="14.2">22</text>
<text transform="translate(665.6,142.7) scale(0.86,1)" text-anchor="middle" font-size="14.2">18</text>
<text transform="translate(495.8,271.1) scale(0.86,1)" text-anchor="middle" font-size="14.2">14</text>
<text transform="translate(564,305.2) scale(0.86,1)" text-anchor="middle" font-size="14.2">20</text>
<text transform="translate(568,393.7) scale(0.86,1)" text-anchor="middle" font-size="14.2">9</text>
<text transform="translate(601.4,380.7) scale(0.86,1)" text-anchor="middle" font-size="14.2">30</text>
<text transform="translate(475.6,402.7) scale(0.86,1)" text-anchor="middle" font-size="14.2">18</text>
<text transform="translate(644,409.7) scale(0.86,1)" text-anchor="middle" font-size="14.2">18</text>
<text transform="translate(662,400.2) scale(0.86,1)" text-anchor="middle" font-size="14.2">7</text>
<text transform="translate(774,419.7) scale(0.86,1)" text-anchor="middle" font-size="14.2">21</text>
<text transform="translate(798,476.3) scale(0.86,1)" text-anchor="middle" font-size="14.2">16</text>
<text transform="translate(798,509.7) scale(0.86,1)" text-anchor="middle" font-size="14.2">17</text>
<text transform="translate(798,525.7) scale(0.86,1)" text-anchor="middle" font-size="14.2">15</text>
<text transform="translate(705.5,604.7) scale(0.86,1)" text-anchor="middle" font-size="14.2">6</text>
<text transform="translate(621,619.3) scale(0.86,1)" text-anchor="middle" font-size="14.2">20</text>
<text transform="translate(281,421.7) scale(0.86,1)" text-anchor="middle" font-size="14.2">8</text>
<text transform="translate(344.4,488.0) scale(0.86,1)" text-anchor="middle" font-size="14.2">19</text>
<text transform="translate(234,504.7) scale(0.86,1)" text-anchor="middle" font-size="14.2">18</text>
<text transform="translate(419.6,509.7) scale(0.86,1)" text-anchor="middle" font-size="14.2">10</text>
<text transform="translate(458.6,494.2) scale(0.86,1)" text-anchor="middle" font-size="14.2">31</text>
<text transform="translate(552.7,516.3) scale(0.86,1)" text-anchor="middle" font-size="14.2">18</text>
<text transform="translate(550,591.7) scale(0.86,1)" text-anchor="middle" font-size="14.2">22</text>
<text transform="translate(220,629.7) scale(0.86,1)" text-anchor="middle" font-size="14.2">4</text>
<text transform="translate(220,662.7) scale(0.86,1)" text-anchor="middle" font-size="14.2">2</text>
<text transform="translate(319.5,615.7) scale(0.86,1)" text-anchor="middle" font-size="14.2">22</text>
<text transform="translate(357.6,677.1) scale(0.86,1)" text-anchor="middle" font-size="14.2">34</text>
<text transform="translate(566.5,679.7) scale(0.86,1)" text-anchor="middle" font-size="14.2">27</text>
<text transform="translate(691.6,673.7) scale(0.86,1)" text-anchor="middle" font-size="14.2">32</text>
<text transform="translate(680.4,712.3) scale(0.86,1)" text-anchor="middle" font-size="14.2">33</text>
<text transform="translate(590,737.0) scale(0.86,1)" text-anchor="middle" font-size="14.2">20</text>
<text transform="translate(543.3,760.2) scale(0.86,1)" text-anchor="middle" font-size="14.2">28</text>
<text transform="translate(251,747.2) scale(0.86,1)" text-anchor="middle" font-size="14.2">29</text>
<text transform="translate(581.5,846.2) scale(0.86,1)" text-anchor="middle" font-size="14.2">24</text>
<text transform="translate(528,893.2) scale(0.86,1)" text-anchor="middle" font-size="14.2">17</text>
<text transform="translate(252.8,905.7) scale(0.86,1)" text-anchor="middle" font-size="14.2">3</text>
<text transform="translate(504,916.7) scale(0.86,1)" text-anchor="middle" font-size="14.2">5</text>
<text transform="translate(285.3,926.4) scale(0.86,1)" text-anchor="middle" font-size="14.2">25</text>
<text transform="translate(306.6,926.4) scale(0.86,1)" text-anchor="middle" font-size="14.2">26</text>
<text transform="translate(329.5,926.4) scale(0.86,1)" text-anchor="middle" font-size="14.2">27</text>
<text transform="translate(355.5,926.4) scale(0.86,1)" text-anchor="middle" font-size="14.2">28</text>
<text transform="translate(376.8,926.4) scale(0.86,1)" text-anchor="middle" font-size="14.2">29</text>
<text transform="translate(328.2,948.5) scale(0.86,1)" text-anchor="middle" font-size="14.2">1</text>
<text transform="translate(491.6,942.7) scale(0.86,1)" text-anchor="middle" font-size="14.2">26</text>
<text transform="translate(561,952.1) scale(0.86,1)" text-anchor="middle" font-size="14.2">25</text>
<text transform="translate(699.4,297.9) scale(0.86,1)" text-anchor="middle" font-size="14.2">A</text>
<text transform="translate(686,297.9) scale(0.86,1)" text-anchor="middle" font-size="14.2">9</text>
<line x1="473.6" y1="99" x2="473.6" y2="118" stroke-width="1.6"/>
<line x1="523.6" y1="160" x2="523.6" y2="180" stroke-width="1.6"/>
<line x1="341" y1="184" x2="357" y2="184" stroke-width="1.6"/>
<line x1="360" y1="218" x2="379" y2="218" stroke-width="1.6"/>
<line x1="326" y1="245" x2="343" y2="245" stroke-width="1.6"/>
<line x1="665.6" y1="147" x2="665.6" y2="164" stroke-width="1.6"/>
<line x1="658.4" y1="294" x2="678.8" y2="294" stroke-width="1.6"/>
<line x1="505.7" y1="266" x2="520" y2="266" stroke-width="1.6"/>
<line x1="534" y1="300.5" x2="553" y2="300.5" stroke-width="1.6"/>
<line x1="545" y1="389" x2="560" y2="389" stroke-width="1.6"/>
<line x1="601.6" y1="384" x2="601.6" y2="401" stroke-width="1.6"/>
<line x1="475.6" y1="372" x2="475.6" y2="392" stroke-width="1.6"/>
<line x1="643.5" y1="377" x2="643.5" y2="394" stroke-width="1.6"/>
<line x1="662" y1="403" x2="662" y2="421" stroke-width="1.6"/>
<line x1="751.6" y1="414" x2="767" y2="414" stroke-width="1.6"/>
<line x1="773.6" y1="471.6" x2="788" y2="471.6" stroke-width="1.6"/>
<line x1="773.6" y1="505" x2="789" y2="505" stroke-width="1.6"/>
<line x1="775" y1="521" x2="790.5" y2="521" stroke-width="1.6"/>
<line x1="706.5" y1="570" x2="706.5" y2="590" stroke-width="1.6"/>
<line x1="630" y1="614.3" x2="646" y2="614.3" stroke-width="1.6"/>
<line x1="281.4" y1="425.5" x2="281.4" y2="442.5" stroke-width="1.6"/>
<line x1="344.4" y1="459.5" x2="344.4" y2="474.8" stroke-width="1.6"/>
<line x1="233.8" y1="508" x2="233.8" y2="522.4" stroke-width="1.6"/>
<line x1="419.6" y1="513" x2="419.6" y2="533.7" stroke-width="1.6"/>
<line x1="459" y1="497" x2="459" y2="514" stroke-width="1.6"/>
<line x1="553.5" y1="485.6" x2="553.5" y2="502.5" stroke-width="1.6"/>
<line x1="550" y1="559.7" x2="550" y2="579" stroke-width="1.6"/>
<line x1="226" y1="625" x2="246" y2="625" stroke-width="1.6"/>
<line x1="226" y1="658" x2="244" y2="658" stroke-width="1.6"/>
<line x1="319.5" y1="620" x2="319.5" y2="642.5" stroke-width="1.6"/>
<line x1="358.2" y1="682.3" x2="358.2" y2="694.7" stroke-width="1.6"/>
<line x1="566.7" y1="683" x2="566.7" y2="698.5" stroke-width="1.6"/>
<line x1="665" y1="669" x2="682" y2="669" stroke-width="1.6"/>
<line x1="654" y1="707.6" x2="671" y2="707.6" stroke-width="1.6"/>
<line x1="590.6" y1="708" x2="590.6" y2="724" stroke-width="1.6"/>
<line x1="542.8" y1="729.5" x2="542.8" y2="748.5" stroke-width="1.6"/>
<line x1="250" y1="750" x2="250" y2="762.5" stroke-width="1.6"/>
<line x1="556" y1="841.3" x2="572" y2="841.3" stroke-width="1.6"/>
<line x1="528" y1="860" x2="528" y2="880" stroke-width="1.6"/>
<line x1="252.8" y1="872" x2="252.8" y2="891.8" stroke-width="1.6"/>
<line x1="504" y1="877" x2="504" y2="903" stroke-width="1.6"/>
<line x1="343" y1="891.8" x2="343" y2="925.6" stroke-width="1.6"/>
<line x1="491" y1="945" x2="491" y2="952" stroke-width="1.6"/>
<line x1="531" y1="947.4" x2="551" y2="947.4" stroke-width="1.6"/>
<line x1="484" y1="343" x2="491" y2="338" stroke-width="1.6"/>
<line x1="642" y1="196" x2="652" y2="189" stroke-width="1.6"/>
<line x1="311.6" y1="664.5" x2="311.6" y2="672" stroke-width="1.6"/>
<path d="M275.4,923.0 L275.4,929.5 L389.8,929.5 L389.8,923.0" stroke-width="1.6"/>
<line x1="328.2" y1="929.5" x2="328.2" y2="936" stroke-width="1.6"/>
<path d="M359.0,250.0 L359.0,258.0 L333.0,267.0 L342.0,300.0" fill="none" stroke-width="1.6" stroke-dasharray="10 5"/>
<path d="M325.0,339.0 L312.0,341.5 L312.0,392.0 L391.0,422.5 L352.0,434.6" fill="none" stroke-width="1.6" stroke-dasharray="10 5"/>
<path d="M224.0,549.0 L208.8,554.5 L208.8,597.4 L296.8,567.7 L297.8,791.6 L239.5,824.8" fill="none" stroke-width="1.6" stroke-dasharray="10 5"/>
<path d="M291.3,688.7 L241.2,710.8" fill="none" stroke-width="1.6" stroke-dasharray="10 5"/>
<path d="M243,702 Q250,698 252,704 Q254,708 248,711" stroke-width="1.2" stroke-dasharray="3 2"/>
<path d="M257,802 Q264,797 266,805 Q268,812 260,815" stroke-width="1.2" stroke-dasharray="3 2"/>
<path d="M538.5,476.0 L532.0,478.0 L532.0,736.0 L449.0,771.0" fill="none" stroke-width="1.6" stroke-dasharray="10 5"/>
<path d="M527.8,722.9 L443.8,758.6" fill="none" stroke-width="1.6" stroke-dasharray="10 5"/>
<path d="M488.7,868.8 L438.0,887.0" fill="none" stroke-width="1.6" stroke-dasharray="10 5"/>
<path d="M438.0,906.0 L475.0,889.0 L475.0,969.0 L482.0,966.0" fill="none" stroke-width="1.6" stroke-dasharray="10 5"/>
<path d="M712.0,423.0 L681.0,456.0" fill="none" stroke-width="1.6" stroke-dasharray="10 5"/>
<path d="M525.0,548.0 L538.0,548.0" fill="none" stroke-width="1.6" stroke-dasharray="10 5"/>
</g>
</svg></body></html>
